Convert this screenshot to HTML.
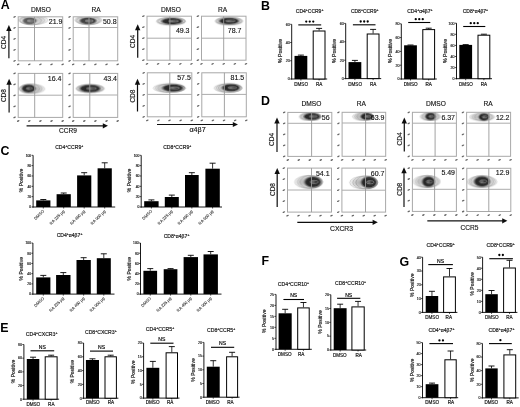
<!DOCTYPE html><html><head><meta charset="utf-8"><style>html,body{margin:0;padding:0;background:#fff;}svg{display:block;will-change:transform;}text{font-family:"Liberation Sans", sans-serif;}</style></head><body>
<svg width="520" height="407" viewBox="0 0 520 407">
<defs><filter id="soft" x="0" y="0" width="100%" height="100%"><feGaussianBlur stdDeviation="0.3"/></filter></defs>
<rect width="520" height="407" fill="#fff"/>
<g filter="url(#soft)">
<text x="0.7" y="9.4" font-size="12.4" text-anchor="start" font-weight="bold" fill="#000">A</text>
<text x="261.0" y="10.3" font-size="12.4" text-anchor="start" font-weight="bold" fill="#000">B</text>
<text x="0.6" y="154.7" font-size="12.4" text-anchor="start" font-weight="bold" fill="#000">C</text>
<text x="261.0" y="104.7" font-size="12.4" text-anchor="start" font-weight="bold" fill="#000">D</text>
<text x="0.3" y="331.8" font-size="12.4" text-anchor="start" font-weight="bold" fill="#000">E</text>
<text x="261.6" y="265.0" font-size="12.4" text-anchor="start" font-weight="bold" fill="#000">F</text>
<text x="399.4" y="265.7" font-size="12.4" text-anchor="start" font-weight="bold" fill="#000">G</text>
<text x="41" y="11.7" font-size="6.6" text-anchor="middle" font-weight="normal" fill="#111" stroke="#111" stroke-width="0.14">DMSO</text>
<text x="96" y="11.7" font-size="6.6" text-anchor="middle" font-weight="normal" fill="#111" stroke="#111" stroke-width="0.14">RA</text>
<text x="171" y="11.7" font-size="6.6" text-anchor="middle" font-weight="normal" fill="#111" stroke="#111" stroke-width="0.14">DMSO</text>
<text x="222.7" y="11.7" font-size="6.6" text-anchor="middle" font-weight="normal" fill="#111" stroke="#111" stroke-width="0.14">RA</text>
<svg x="18.2" y="16.8" width="44.5" height="44" overflow="hidden">
<g transform="translate(-18.2,-16.8)">
<radialGradient id="g1" cx="50%" cy="50%" r="50%"><stop offset="0" stop-color="#777" stop-opacity="0.54"/><stop offset="0.6" stop-color="#999" stop-opacity="0.396"/><stop offset="1" stop-color="#bbb" stop-opacity="0.15"/></radialGradient>
<ellipse cx="33.25" cy="20.0" rx="14.75" ry="4.5" fill="url(#g1)" stroke="#888" stroke-width="0.5" stroke-opacity="0.6"/>
<radialGradient id="g2" cx="50%" cy="50%" r="50%"><stop offset="0" stop-color="#666" stop-opacity="0.612"/><stop offset="0.3" stop-color="#222" stop-opacity="0.6839999999999999"/><stop offset="0.68" stop-color="#1a1a1a" stop-opacity="0.648"/><stop offset="0.86" stop-color="#555" stop-opacity="0.36"/><stop offset="1" stop-color="#888" stop-opacity="0"/></radialGradient>
<ellipse cx="29.5" cy="20.8" rx="8.125" ry="4.125" fill="url(#g2)"/>
<ellipse cx="32.12" cy="20.24" rx="12.66" ry="4.34" fill="none" stroke="#666" stroke-width="0.45" stroke-opacity="0.65"/>
<ellipse cx="31.00" cy="20.48" rx="10.58" ry="4.18" fill="none" stroke="#666" stroke-width="0.45" stroke-opacity="0.65"/>
<ellipse cx="30.475" cy="20.8" rx="3.25" ry="0.9899999999999999" fill="none" stroke="#eee" stroke-width="0.6" stroke-opacity="0.6"/>
</g></svg>
<rect x="18.2" y="16.8" width="44.5" height="44" fill="none" stroke="#a8a8a8" stroke-width="1.0"/>
<line x1="18.2" y1="27.5" x2="62.7" y2="27.5" stroke="#acacac" stroke-width="1.0"/>
<line x1="34.5" y1="16.8" x2="34.5" y2="60.8" stroke="#999" stroke-width="0.9"/>
<text x="62.4" y="24.2" font-size="7" text-anchor="end" font-weight="normal" fill="#111" stroke="#111" stroke-width="0.14">21.9</text>
<ellipse cx="14.6" cy="60.8" rx="1.4" ry="0.7" fill="#666" transform="rotate(-25 14.6 60.8)"/>
<ellipse cx="18.2" cy="64.39999999999999" rx="1.4" ry="0.7" fill="#666" transform="rotate(-25 18.2 64.39999999999999)"/>
<ellipse cx="14.6" cy="49.8" rx="1.4" ry="0.7" fill="#666" transform="rotate(-25 14.6 49.8)"/>
<ellipse cx="29.325" cy="64.39999999999999" rx="1.4" ry="0.7" fill="#666" transform="rotate(-25 29.325 64.39999999999999)"/>
<ellipse cx="14.6" cy="38.8" rx="1.4" ry="0.7" fill="#666" transform="rotate(-25 14.6 38.8)"/>
<ellipse cx="40.45" cy="64.39999999999999" rx="1.4" ry="0.7" fill="#666" transform="rotate(-25 40.45 64.39999999999999)"/>
<ellipse cx="14.6" cy="27.799999999999997" rx="1.4" ry="0.7" fill="#666" transform="rotate(-25 14.6 27.799999999999997)"/>
<ellipse cx="51.575" cy="64.39999999999999" rx="1.4" ry="0.7" fill="#666" transform="rotate(-25 51.575 64.39999999999999)"/>
<ellipse cx="14.6" cy="16.799999999999997" rx="1.4" ry="0.7" fill="#666" transform="rotate(-25 14.6 16.799999999999997)"/>
<ellipse cx="62.7" cy="64.39999999999999" rx="1.4" ry="0.7" fill="#666" transform="rotate(-25 62.7 64.39999999999999)"/>
<svg x="73.2" y="16.8" width="44.5" height="44" overflow="hidden">
<g transform="translate(-73.2,-16.8)">
<radialGradient id="g3" cx="50%" cy="50%" r="50%"><stop offset="0" stop-color="#777" stop-opacity="0.6375"/><stop offset="0.6" stop-color="#999" stop-opacity="0.4675"/><stop offset="1" stop-color="#bbb" stop-opacity="0.15"/></radialGradient>
<ellipse cx="88.4" cy="20.0" rx="13.600000000000001" ry="4.5" fill="url(#g3)" stroke="#888" stroke-width="0.5" stroke-opacity="0.6"/>
<radialGradient id="g4" cx="50%" cy="50%" r="50%"><stop offset="0" stop-color="#666" stop-opacity="0.7224999999999999"/><stop offset="0.3" stop-color="#222" stop-opacity="0.8075"/><stop offset="0.68" stop-color="#1a1a1a" stop-opacity="0.765"/><stop offset="0.86" stop-color="#555" stop-opacity="0.425"/><stop offset="1" stop-color="#888" stop-opacity="0"/></radialGradient>
<ellipse cx="88" cy="20.8" rx="10.0" ry="4.0" fill="url(#g4)"/>
<ellipse cx="88.28" cy="20.24" rx="12.40" ry="4.30" fill="none" stroke="#666" stroke-width="0.45" stroke-opacity="0.65"/>
<ellipse cx="88.16" cy="20.48" rx="11.20" ry="4.10" fill="none" stroke="#666" stroke-width="0.45" stroke-opacity="0.65"/>
<ellipse cx="89.2" cy="20.8" rx="4.0" ry="0.96" fill="none" stroke="#eee" stroke-width="0.6" stroke-opacity="0.6"/>
</g></svg>
<rect x="73.2" y="16.8" width="44.5" height="44" fill="none" stroke="#a8a8a8" stroke-width="1.0"/>
<line x1="73.2" y1="27.5" x2="117.7" y2="27.5" stroke="#acacac" stroke-width="1.0"/>
<line x1="89.0" y1="16.8" x2="89.0" y2="60.8" stroke="#999" stroke-width="0.9"/>
<text x="116.6" y="24.2" font-size="7" text-anchor="end" font-weight="normal" fill="#111" stroke="#111" stroke-width="0.14">50.8</text>
<ellipse cx="69.60000000000001" cy="60.8" rx="1.4" ry="0.7" fill="#666" transform="rotate(-25 69.60000000000001 60.8)"/>
<ellipse cx="73.2" cy="64.39999999999999" rx="1.4" ry="0.7" fill="#666" transform="rotate(-25 73.2 64.39999999999999)"/>
<ellipse cx="69.60000000000001" cy="49.8" rx="1.4" ry="0.7" fill="#666" transform="rotate(-25 69.60000000000001 49.8)"/>
<ellipse cx="84.325" cy="64.39999999999999" rx="1.4" ry="0.7" fill="#666" transform="rotate(-25 84.325 64.39999999999999)"/>
<ellipse cx="69.60000000000001" cy="38.8" rx="1.4" ry="0.7" fill="#666" transform="rotate(-25 69.60000000000001 38.8)"/>
<ellipse cx="95.45" cy="64.39999999999999" rx="1.4" ry="0.7" fill="#666" transform="rotate(-25 95.45 64.39999999999999)"/>
<ellipse cx="69.60000000000001" cy="27.799999999999997" rx="1.4" ry="0.7" fill="#666" transform="rotate(-25 69.60000000000001 27.799999999999997)"/>
<ellipse cx="106.575" cy="64.39999999999999" rx="1.4" ry="0.7" fill="#666" transform="rotate(-25 106.575 64.39999999999999)"/>
<ellipse cx="69.60000000000001" cy="16.799999999999997" rx="1.4" ry="0.7" fill="#666" transform="rotate(-25 69.60000000000001 16.799999999999997)"/>
<ellipse cx="117.7" cy="64.39999999999999" rx="1.4" ry="0.7" fill="#666" transform="rotate(-25 117.7 64.39999999999999)"/>
<svg x="18.2" y="73.4" width="44.5" height="44" overflow="hidden">
<g transform="translate(-18.2,-73.4)">
<radialGradient id="g5" cx="50%" cy="50%" r="50%"><stop offset="0" stop-color="#777" stop-opacity="0.75"/><stop offset="0.6" stop-color="#999" stop-opacity="0.55"/><stop offset="1" stop-color="#bbb" stop-opacity="0.15"/></radialGradient>
<ellipse cx="31.799999999999997" cy="88.85" rx="12.999999999999998" ry="4.550000000000004" fill="url(#g5)" stroke="#888" stroke-width="0.5" stroke-opacity="0.6"/>
<radialGradient id="g6" cx="50%" cy="50%" r="50%"><stop offset="0" stop-color="#666" stop-opacity="0.85"/><stop offset="0.3" stop-color="#222" stop-opacity="0.95"/><stop offset="0.68" stop-color="#1a1a1a" stop-opacity="0.9"/><stop offset="0.86" stop-color="#555" stop-opacity="0.5"/><stop offset="1" stop-color="#888" stop-opacity="0"/></radialGradient>
<ellipse cx="28.5" cy="88.5" rx="8.125" ry="4.75" fill="url(#g6)"/>
<ellipse cx="30.81" cy="88.74" rx="11.44" ry="4.55" fill="none" stroke="#666" stroke-width="0.45" stroke-opacity="0.65"/>
<ellipse cx="29.82" cy="88.64" rx="9.88" ry="4.56" fill="none" stroke="#666" stroke-width="0.45" stroke-opacity="0.65"/>
<ellipse cx="29.475" cy="88.5" rx="3.25" ry="1.14" fill="none" stroke="#eee" stroke-width="0.6" stroke-opacity="0.6"/>
</g></svg>
<rect x="18.2" y="73.4" width="44.5" height="44" fill="none" stroke="#a8a8a8" stroke-width="1.0"/>
<line x1="18.2" y1="95.2" x2="62.7" y2="95.2" stroke="#acacac" stroke-width="1.0"/>
<line x1="34.7" y1="73.4" x2="34.7" y2="117.4" stroke="#999" stroke-width="0.9"/>
<text x="61.4" y="80.7" font-size="7" text-anchor="end" font-weight="normal" fill="#111" stroke="#111" stroke-width="0.14">16.4</text>
<ellipse cx="14.6" cy="117.4" rx="1.4" ry="0.7" fill="#666" transform="rotate(-25 14.6 117.4)"/>
<ellipse cx="18.2" cy="121.0" rx="1.4" ry="0.7" fill="#666" transform="rotate(-25 18.2 121.0)"/>
<ellipse cx="14.6" cy="106.4" rx="1.4" ry="0.7" fill="#666" transform="rotate(-25 14.6 106.4)"/>
<ellipse cx="29.325" cy="121.0" rx="1.4" ry="0.7" fill="#666" transform="rotate(-25 29.325 121.0)"/>
<ellipse cx="14.6" cy="95.4" rx="1.4" ry="0.7" fill="#666" transform="rotate(-25 14.6 95.4)"/>
<ellipse cx="40.45" cy="121.0" rx="1.4" ry="0.7" fill="#666" transform="rotate(-25 40.45 121.0)"/>
<ellipse cx="14.6" cy="84.4" rx="1.4" ry="0.7" fill="#666" transform="rotate(-25 14.6 84.4)"/>
<ellipse cx="51.575" cy="121.0" rx="1.4" ry="0.7" fill="#666" transform="rotate(-25 51.575 121.0)"/>
<ellipse cx="14.6" cy="73.4" rx="1.4" ry="0.7" fill="#666" transform="rotate(-25 14.6 73.4)"/>
<ellipse cx="62.7" cy="121.0" rx="1.4" ry="0.7" fill="#666" transform="rotate(-25 62.7 121.0)"/>
<svg x="73.2" y="73.4" width="44.5" height="44" overflow="hidden">
<g transform="translate(-73.2,-73.4)">
<radialGradient id="g7" cx="50%" cy="50%" r="50%"><stop offset="0" stop-color="#777" stop-opacity="0.75"/><stop offset="0.6" stop-color="#999" stop-opacity="0.55"/><stop offset="1" stop-color="#bbb" stop-opacity="0.15"/></radialGradient>
<ellipse cx="90.19999999999999" cy="88.55000000000001" rx="14.399999999999999" ry="3.8500000000000014" fill="url(#g7)" stroke="#888" stroke-width="0.5" stroke-opacity="0.6"/>
<radialGradient id="g8" cx="50%" cy="50%" r="50%"><stop offset="0" stop-color="#666" stop-opacity="0.85"/><stop offset="0.3" stop-color="#222" stop-opacity="0.95"/><stop offset="0.68" stop-color="#1a1a1a" stop-opacity="0.9"/><stop offset="0.86" stop-color="#555" stop-opacity="0.5"/><stop offset="1" stop-color="#888" stop-opacity="0"/></radialGradient>
<ellipse cx="90" cy="88.5" rx="12.5" ry="4.5" fill="url(#g8)"/>
<ellipse cx="90.14" cy="88.54" rx="13.68" ry="3.99" fill="none" stroke="#666" stroke-width="0.45" stroke-opacity="0.65"/>
<ellipse cx="90.08" cy="88.52" rx="12.96" ry="4.13" fill="none" stroke="#666" stroke-width="0.45" stroke-opacity="0.65"/>
<ellipse cx="91.5" cy="88.5" rx="5.0" ry="1.08" fill="none" stroke="#eee" stroke-width="0.6" stroke-opacity="0.6"/>
</g></svg>
<rect x="73.2" y="73.4" width="44.5" height="44" fill="none" stroke="#a8a8a8" stroke-width="1.0"/>
<line x1="73.2" y1="95.0" x2="117.7" y2="95.0" stroke="#acacac" stroke-width="1.0"/>
<line x1="89.8" y1="73.4" x2="89.8" y2="117.4" stroke="#999" stroke-width="0.9"/>
<text x="117.0" y="81.0" font-size="7" text-anchor="end" font-weight="normal" fill="#111" stroke="#111" stroke-width="0.14">43.4</text>
<ellipse cx="69.60000000000001" cy="117.4" rx="1.4" ry="0.7" fill="#666" transform="rotate(-25 69.60000000000001 117.4)"/>
<ellipse cx="73.2" cy="121.0" rx="1.4" ry="0.7" fill="#666" transform="rotate(-25 73.2 121.0)"/>
<ellipse cx="69.60000000000001" cy="106.4" rx="1.4" ry="0.7" fill="#666" transform="rotate(-25 69.60000000000001 106.4)"/>
<ellipse cx="84.325" cy="121.0" rx="1.4" ry="0.7" fill="#666" transform="rotate(-25 84.325 121.0)"/>
<ellipse cx="69.60000000000001" cy="95.4" rx="1.4" ry="0.7" fill="#666" transform="rotate(-25 69.60000000000001 95.4)"/>
<ellipse cx="95.45" cy="121.0" rx="1.4" ry="0.7" fill="#666" transform="rotate(-25 95.45 121.0)"/>
<ellipse cx="69.60000000000001" cy="84.4" rx="1.4" ry="0.7" fill="#666" transform="rotate(-25 69.60000000000001 84.4)"/>
<ellipse cx="106.575" cy="121.0" rx="1.4" ry="0.7" fill="#666" transform="rotate(-25 106.575 121.0)"/>
<ellipse cx="69.60000000000001" cy="73.4" rx="1.4" ry="0.7" fill="#666" transform="rotate(-25 69.60000000000001 73.4)"/>
<ellipse cx="117.7" cy="121.0" rx="1.4" ry="0.7" fill="#666" transform="rotate(-25 117.7 121.0)"/>
<svg x="147.0" y="16.2" width="44.5" height="44" overflow="hidden">
<g transform="translate(-147.0,-16.2)">
<radialGradient id="g9" cx="50%" cy="50%" r="50%"><stop offset="0" stop-color="#777" stop-opacity="0.75"/><stop offset="0.6" stop-color="#999" stop-opacity="0.55"/><stop offset="1" stop-color="#bbb" stop-opacity="0.15"/></radialGradient>
<ellipse cx="171.0" cy="21.25" rx="15.0" ry="3.75" fill="url(#g9)" stroke="#888" stroke-width="0.5" stroke-opacity="0.6"/>
<radialGradient id="g10" cx="50%" cy="50%" r="50%"><stop offset="0" stop-color="#666" stop-opacity="0.85"/><stop offset="0.3" stop-color="#222" stop-opacity="0.95"/><stop offset="0.68" stop-color="#1a1a1a" stop-opacity="0.9"/><stop offset="0.86" stop-color="#555" stop-opacity="0.5"/><stop offset="1" stop-color="#888" stop-opacity="0"/></radialGradient>
<ellipse cx="172" cy="21.2" rx="12.5" ry="3.75" fill="url(#g10)"/>
<ellipse cx="171.30" cy="21.23" rx="14.10" ry="3.71" fill="none" stroke="#666" stroke-width="0.45" stroke-opacity="0.65"/>
<ellipse cx="171.60" cy="21.22" rx="13.20" ry="3.66" fill="none" stroke="#666" stroke-width="0.45" stroke-opacity="0.65"/>
<ellipse cx="173.5" cy="21.2" rx="5.0" ry="0.8999999999999999" fill="none" stroke="#eee" stroke-width="0.6" stroke-opacity="0.6"/>
</g></svg>
<rect x="147.0" y="16.2" width="44.5" height="44" fill="none" stroke="#a8a8a8" stroke-width="1.0"/>
<line x1="147.0" y1="38.2" x2="191.5" y2="38.2" stroke="#acacac" stroke-width="1.0"/>
<line x1="169.9" y1="16.2" x2="169.9" y2="60.2" stroke="#999" stroke-width="0.9"/>
<text x="189.5" y="33.0" font-size="7" text-anchor="end" font-weight="normal" fill="#111" stroke="#111" stroke-width="0.14">49.3</text>
<ellipse cx="143.4" cy="60.2" rx="1.4" ry="0.7" fill="#666" transform="rotate(-25 143.4 60.2)"/>
<ellipse cx="147.0" cy="63.800000000000004" rx="1.4" ry="0.7" fill="#666" transform="rotate(-25 147.0 63.800000000000004)"/>
<ellipse cx="143.4" cy="49.2" rx="1.4" ry="0.7" fill="#666" transform="rotate(-25 143.4 49.2)"/>
<ellipse cx="158.125" cy="63.800000000000004" rx="1.4" ry="0.7" fill="#666" transform="rotate(-25 158.125 63.800000000000004)"/>
<ellipse cx="143.4" cy="38.2" rx="1.4" ry="0.7" fill="#666" transform="rotate(-25 143.4 38.2)"/>
<ellipse cx="169.25" cy="63.800000000000004" rx="1.4" ry="0.7" fill="#666" transform="rotate(-25 169.25 63.800000000000004)"/>
<ellipse cx="143.4" cy="27.200000000000003" rx="1.4" ry="0.7" fill="#666" transform="rotate(-25 143.4 27.200000000000003)"/>
<ellipse cx="180.375" cy="63.800000000000004" rx="1.4" ry="0.7" fill="#666" transform="rotate(-25 180.375 63.800000000000004)"/>
<ellipse cx="143.4" cy="16.200000000000003" rx="1.4" ry="0.7" fill="#666" transform="rotate(-25 143.4 16.200000000000003)"/>
<ellipse cx="191.5" cy="63.800000000000004" rx="1.4" ry="0.7" fill="#666" transform="rotate(-25 191.5 63.800000000000004)"/>
<svg x="201.5" y="16.2" width="44.5" height="44" overflow="hidden">
<g transform="translate(-201.5,-16.2)">
<radialGradient id="g11" cx="50%" cy="50%" r="50%"><stop offset="0" stop-color="#777" stop-opacity="0.75"/><stop offset="0.6" stop-color="#999" stop-opacity="0.55"/><stop offset="1" stop-color="#bbb" stop-opacity="0.15"/></radialGradient>
<ellipse cx="229.0" cy="21.15" rx="14.0" ry="3.8499999999999996" fill="url(#g11)" stroke="#888" stroke-width="0.5" stroke-opacity="0.6"/>
<radialGradient id="g12" cx="50%" cy="50%" r="50%"><stop offset="0" stop-color="#666" stop-opacity="0.85"/><stop offset="0.3" stop-color="#222" stop-opacity="0.95"/><stop offset="0.68" stop-color="#1a1a1a" stop-opacity="0.9"/><stop offset="0.86" stop-color="#555" stop-opacity="0.5"/><stop offset="1" stop-color="#888" stop-opacity="0"/></radialGradient>
<ellipse cx="229" cy="21" rx="11.875" ry="3.75" fill="url(#g12)"/>
<ellipse cx="229.00" cy="21.11" rx="13.22" ry="3.77" fill="none" stroke="#666" stroke-width="0.45" stroke-opacity="0.65"/>
<ellipse cx="229.00" cy="21.06" rx="12.44" ry="3.70" fill="none" stroke="#666" stroke-width="0.45" stroke-opacity="0.65"/>
<ellipse cx="230.425" cy="21" rx="4.75" ry="0.8999999999999999" fill="none" stroke="#eee" stroke-width="0.6" stroke-opacity="0.6"/>
</g></svg>
<rect x="201.5" y="16.2" width="44.5" height="44" fill="none" stroke="#a8a8a8" stroke-width="1.0"/>
<line x1="201.5" y1="38.2" x2="246.0" y2="38.2" stroke="#acacac" stroke-width="1.0"/>
<line x1="223.7" y1="16.2" x2="223.7" y2="60.2" stroke="#999" stroke-width="0.9"/>
<text x="241.4" y="32.8" font-size="7" text-anchor="end" font-weight="normal" fill="#111" stroke="#111" stroke-width="0.14">78.7</text>
<ellipse cx="197.9" cy="60.2" rx="1.4" ry="0.7" fill="#666" transform="rotate(-25 197.9 60.2)"/>
<ellipse cx="201.5" cy="63.800000000000004" rx="1.4" ry="0.7" fill="#666" transform="rotate(-25 201.5 63.800000000000004)"/>
<ellipse cx="197.9" cy="49.2" rx="1.4" ry="0.7" fill="#666" transform="rotate(-25 197.9 49.2)"/>
<ellipse cx="212.625" cy="63.800000000000004" rx="1.4" ry="0.7" fill="#666" transform="rotate(-25 212.625 63.800000000000004)"/>
<ellipse cx="197.9" cy="38.2" rx="1.4" ry="0.7" fill="#666" transform="rotate(-25 197.9 38.2)"/>
<ellipse cx="223.75" cy="63.800000000000004" rx="1.4" ry="0.7" fill="#666" transform="rotate(-25 223.75 63.800000000000004)"/>
<ellipse cx="197.9" cy="27.200000000000003" rx="1.4" ry="0.7" fill="#666" transform="rotate(-25 197.9 27.200000000000003)"/>
<ellipse cx="234.875" cy="63.800000000000004" rx="1.4" ry="0.7" fill="#666" transform="rotate(-25 234.875 63.800000000000004)"/>
<ellipse cx="197.9" cy="16.200000000000003" rx="1.4" ry="0.7" fill="#666" transform="rotate(-25 197.9 16.200000000000003)"/>
<ellipse cx="246.0" cy="63.800000000000004" rx="1.4" ry="0.7" fill="#666" transform="rotate(-25 246.0 63.800000000000004)"/>
<svg x="147.3" y="72.8" width="44.5" height="44" overflow="hidden">
<g transform="translate(-147.3,-72.8)">
<radialGradient id="g13" cx="50%" cy="50%" r="50%"><stop offset="0" stop-color="#777" stop-opacity="0.75"/><stop offset="0.6" stop-color="#999" stop-opacity="0.55"/><stop offset="1" stop-color="#bbb" stop-opacity="0.15"/></radialGradient>
<ellipse cx="169.3" cy="88.1" rx="16.10000000000001" ry="4.300000000000004" fill="url(#g13)" stroke="#888" stroke-width="0.5" stroke-opacity="0.6"/>
<radialGradient id="g14" cx="50%" cy="50%" r="50%"><stop offset="0" stop-color="#666" stop-opacity="0.85"/><stop offset="0.3" stop-color="#222" stop-opacity="0.95"/><stop offset="0.68" stop-color="#1a1a1a" stop-opacity="0.9"/><stop offset="0.86" stop-color="#555" stop-opacity="0.5"/><stop offset="1" stop-color="#888" stop-opacity="0"/></radialGradient>
<ellipse cx="173" cy="88" rx="12.5" ry="4.375" fill="url(#g14)"/>
<ellipse cx="170.41" cy="88.07" rx="14.87" ry="4.27" fill="none" stroke="#666" stroke-width="0.45" stroke-opacity="0.65"/>
<ellipse cx="171.52" cy="88.04" rx="13.64" ry="4.24" fill="none" stroke="#666" stroke-width="0.45" stroke-opacity="0.65"/>
<ellipse cx="174.5" cy="88" rx="5.0" ry="1.05" fill="none" stroke="#eee" stroke-width="0.6" stroke-opacity="0.6"/>
</g></svg>
<rect x="147.3" y="72.8" width="44.5" height="44" fill="none" stroke="#a8a8a8" stroke-width="1.0"/>
<line x1="147.3" y1="94.4" x2="191.8" y2="94.4" stroke="#acacac" stroke-width="1.0"/>
<line x1="169.8" y1="72.8" x2="169.8" y2="116.8" stroke="#999" stroke-width="0.9"/>
<text x="190.8" y="80.0" font-size="7" text-anchor="end" font-weight="normal" fill="#111" stroke="#111" stroke-width="0.14">57.5</text>
<ellipse cx="143.70000000000002" cy="116.8" rx="1.4" ry="0.7" fill="#666" transform="rotate(-25 143.70000000000002 116.8)"/>
<ellipse cx="147.3" cy="120.39999999999999" rx="1.4" ry="0.7" fill="#666" transform="rotate(-25 147.3 120.39999999999999)"/>
<ellipse cx="143.70000000000002" cy="105.8" rx="1.4" ry="0.7" fill="#666" transform="rotate(-25 143.70000000000002 105.8)"/>
<ellipse cx="158.425" cy="120.39999999999999" rx="1.4" ry="0.7" fill="#666" transform="rotate(-25 158.425 120.39999999999999)"/>
<ellipse cx="143.70000000000002" cy="94.8" rx="1.4" ry="0.7" fill="#666" transform="rotate(-25 143.70000000000002 94.8)"/>
<ellipse cx="169.55" cy="120.39999999999999" rx="1.4" ry="0.7" fill="#666" transform="rotate(-25 169.55 120.39999999999999)"/>
<ellipse cx="143.70000000000002" cy="83.8" rx="1.4" ry="0.7" fill="#666" transform="rotate(-25 143.70000000000002 83.8)"/>
<ellipse cx="180.675" cy="120.39999999999999" rx="1.4" ry="0.7" fill="#666" transform="rotate(-25 180.675 120.39999999999999)"/>
<ellipse cx="143.70000000000002" cy="72.8" rx="1.4" ry="0.7" fill="#666" transform="rotate(-25 143.70000000000002 72.8)"/>
<ellipse cx="191.8" cy="120.39999999999999" rx="1.4" ry="0.7" fill="#666" transform="rotate(-25 191.8 120.39999999999999)"/>
<svg x="201.8" y="72.8" width="44.5" height="44" overflow="hidden">
<g transform="translate(-201.8,-72.8)">
<radialGradient id="g15" cx="50%" cy="50%" r="50%"><stop offset="0" stop-color="#777" stop-opacity="0.75"/><stop offset="0.6" stop-color="#999" stop-opacity="0.55"/><stop offset="1" stop-color="#bbb" stop-opacity="0.15"/></radialGradient>
<ellipse cx="228.15" cy="88.1" rx="14.150000000000006" ry="4.300000000000004" fill="url(#g15)" stroke="#888" stroke-width="0.5" stroke-opacity="0.6"/>
<radialGradient id="g16" cx="50%" cy="50%" r="50%"><stop offset="0" stop-color="#666" stop-opacity="0.85"/><stop offset="0.3" stop-color="#222" stop-opacity="0.95"/><stop offset="0.68" stop-color="#1a1a1a" stop-opacity="0.9"/><stop offset="0.86" stop-color="#555" stop-opacity="0.5"/><stop offset="1" stop-color="#888" stop-opacity="0"/></radialGradient>
<ellipse cx="231" cy="87.7" rx="10.625" ry="4.375" fill="url(#g16)"/>
<ellipse cx="229.00" cy="87.98" rx="12.97" ry="4.27" fill="none" stroke="#666" stroke-width="0.45" stroke-opacity="0.65"/>
<ellipse cx="229.86" cy="87.86" rx="11.78" ry="4.24" fill="none" stroke="#666" stroke-width="0.45" stroke-opacity="0.65"/>
<ellipse cx="232.275" cy="87.7" rx="4.25" ry="1.05" fill="none" stroke="#eee" stroke-width="0.6" stroke-opacity="0.6"/>
</g></svg>
<rect x="201.8" y="72.8" width="44.5" height="44" fill="none" stroke="#a8a8a8" stroke-width="1.0"/>
<line x1="201.8" y1="94.4" x2="246.3" y2="94.4" stroke="#acacac" stroke-width="1.0"/>
<line x1="224.4" y1="72.8" x2="224.4" y2="116.8" stroke="#999" stroke-width="0.9"/>
<text x="244.2" y="79.8" font-size="7" text-anchor="end" font-weight="normal" fill="#111" stroke="#111" stroke-width="0.14">81.5</text>
<ellipse cx="198.20000000000002" cy="116.8" rx="1.4" ry="0.7" fill="#666" transform="rotate(-25 198.20000000000002 116.8)"/>
<ellipse cx="201.8" cy="120.39999999999999" rx="1.4" ry="0.7" fill="#666" transform="rotate(-25 201.8 120.39999999999999)"/>
<ellipse cx="198.20000000000002" cy="105.8" rx="1.4" ry="0.7" fill="#666" transform="rotate(-25 198.20000000000002 105.8)"/>
<ellipse cx="212.925" cy="120.39999999999999" rx="1.4" ry="0.7" fill="#666" transform="rotate(-25 212.925 120.39999999999999)"/>
<ellipse cx="198.20000000000002" cy="94.8" rx="1.4" ry="0.7" fill="#666" transform="rotate(-25 198.20000000000002 94.8)"/>
<ellipse cx="224.05" cy="120.39999999999999" rx="1.4" ry="0.7" fill="#666" transform="rotate(-25 224.05 120.39999999999999)"/>
<ellipse cx="198.20000000000002" cy="83.8" rx="1.4" ry="0.7" fill="#666" transform="rotate(-25 198.20000000000002 83.8)"/>
<ellipse cx="235.175" cy="120.39999999999999" rx="1.4" ry="0.7" fill="#666" transform="rotate(-25 235.175 120.39999999999999)"/>
<ellipse cx="198.20000000000002" cy="72.8" rx="1.4" ry="0.7" fill="#666" transform="rotate(-25 198.20000000000002 72.8)"/>
<ellipse cx="246.3" cy="120.39999999999999" rx="1.4" ry="0.7" fill="#666" transform="rotate(-25 246.3 120.39999999999999)"/>
<text x="6.1" y="42.4" font-size="6.5" text-anchor="middle" font-weight="normal" fill="#111" stroke="#111" stroke-width="0.14" transform="rotate(-90 6.1 42.4)">CD4</text>
<line x1="8.9" y1="29.9" x2="8.9" y2="58.3" stroke="#111" stroke-width="1.2"/>
<polygon points="6.2,30.9 11.600000000000001,30.9 8.9,24.9" fill="#111"/>
<text x="6.1" y="95.6" font-size="6.5" text-anchor="middle" font-weight="normal" fill="#111" stroke="#111" stroke-width="0.14" transform="rotate(-90 6.1 95.6)">CD8</text>
<line x1="9.1" y1="83.8" x2="9.1" y2="112.4" stroke="#111" stroke-width="1.2"/>
<polygon points="6.3999999999999995,84.8 11.8,84.8 9.1,78.8" fill="#111"/>
<text x="134.9" y="41.5" font-size="6.5" text-anchor="middle" font-weight="normal" fill="#111" stroke="#111" stroke-width="0.14" transform="rotate(-90 134.9 41.5)">CD4</text>
<line x1="137.7" y1="29.2" x2="137.7" y2="57.7" stroke="#111" stroke-width="1.2"/>
<polygon points="135.0,30.2 140.39999999999998,30.2 137.7,24.2" fill="#111"/>
<text x="134.9" y="96.1" font-size="6.5" text-anchor="middle" font-weight="normal" fill="#111" stroke="#111" stroke-width="0.14" transform="rotate(-90 134.9 96.1)">CD8</text>
<line x1="137.5" y1="83.7" x2="137.5" y2="111.5" stroke="#111" stroke-width="1.2"/>
<polygon points="134.8,84.7 140.2,84.7 137.5,78.7" fill="#111"/>
<line x1="26.6" y1="125.8" x2="104" y2="125.8" stroke="#111" stroke-width="1.2"/>
<polygon points="102.8,123.2 102.8,128.4 108,125.8" fill="#111"/>
<text x="68" y="133.2" font-size="6.6" text-anchor="middle" font-weight="normal" fill="#111" stroke="#111" stroke-width="0.14">CCR9</text>
<line x1="157" y1="124.5" x2="234" y2="124.5" stroke="#111" stroke-width="1.2"/>
<polygon points="232.8,121.9 232.8,127.1 238,124.5" fill="#111"/>
<text x="197.6" y="132.2" font-size="7.2" text-anchor="middle" font-weight="normal" fill="#111" stroke="#111" stroke-width="0.14">α4β7</text>
<text x="311.5" y="106.3" font-size="6.6" text-anchor="middle" font-weight="normal" fill="#111" stroke="#111" stroke-width="0.14">DMSO</text>
<text x="361.4" y="106.3" font-size="6.6" text-anchor="middle" font-weight="normal" fill="#111" stroke="#111" stroke-width="0.14">RA</text>
<text x="436.0" y="106.3" font-size="6.6" text-anchor="middle" font-weight="normal" fill="#111" stroke="#111" stroke-width="0.14">DMSO</text>
<text x="488.2" y="106.3" font-size="6.6" text-anchor="middle" font-weight="normal" fill="#111" stroke="#111" stroke-width="0.14">RA</text>
<svg x="287.8" y="112.4" width="44" height="44" overflow="hidden">
<g transform="translate(-287.8,-112.4)">
<radialGradient id="g17" cx="50%" cy="50%" r="50%"><stop offset="0" stop-color="#777" stop-opacity="0.75"/><stop offset="0.6" stop-color="#999" stop-opacity="0.55"/><stop offset="1" stop-color="#bbb" stop-opacity="0.15"/></radialGradient>
<ellipse cx="309.85" cy="116.65" rx="10.849999999999994" ry="3.8500000000000014" fill="url(#g17)" stroke="#888" stroke-width="0.5" stroke-opacity="0.6"/>
<radialGradient id="g18" cx="50%" cy="50%" r="50%"><stop offset="0" stop-color="#666" stop-opacity="0.85"/><stop offset="0.3" stop-color="#222" stop-opacity="0.95"/><stop offset="0.68" stop-color="#1a1a1a" stop-opacity="0.9"/><stop offset="0.86" stop-color="#555" stop-opacity="0.5"/><stop offset="1" stop-color="#888" stop-opacity="0"/></radialGradient>
<ellipse cx="312" cy="116.5" rx="10.0" ry="4.125" fill="url(#g18)"/>
<ellipse cx="310.50" cy="116.61" rx="10.47" ry="3.88" fill="none" stroke="#666" stroke-width="0.45" stroke-opacity="0.65"/>
<ellipse cx="311.14" cy="116.56" rx="10.10" ry="3.92" fill="none" stroke="#666" stroke-width="0.45" stroke-opacity="0.65"/>
<ellipse cx="313.2" cy="116.5" rx="4.0" ry="0.9899999999999999" fill="none" stroke="#eee" stroke-width="0.6" stroke-opacity="0.6"/>
</g></svg>
<rect x="287.8" y="112.4" width="44" height="44" fill="none" stroke="#a8a8a8" stroke-width="1.0"/>
<line x1="287.8" y1="123.3" x2="331.8" y2="123.3" stroke="#acacac" stroke-width="1.0"/>
<line x1="311.6" y1="112.4" x2="311.6" y2="156.4" stroke="#999" stroke-width="0.9"/>
<text x="329.6" y="119.6" font-size="7" text-anchor="end" font-weight="normal" fill="#111" stroke="#111" stroke-width="0.14">56</text>
<ellipse cx="284.2" cy="156.4" rx="1.4" ry="0.7" fill="#666" transform="rotate(-25 284.2 156.4)"/>
<ellipse cx="287.8" cy="160.0" rx="1.4" ry="0.7" fill="#666" transform="rotate(-25 287.8 160.0)"/>
<ellipse cx="284.2" cy="145.4" rx="1.4" ry="0.7" fill="#666" transform="rotate(-25 284.2 145.4)"/>
<ellipse cx="298.8" cy="160.0" rx="1.4" ry="0.7" fill="#666" transform="rotate(-25 298.8 160.0)"/>
<ellipse cx="284.2" cy="134.4" rx="1.4" ry="0.7" fill="#666" transform="rotate(-25 284.2 134.4)"/>
<ellipse cx="309.8" cy="160.0" rx="1.4" ry="0.7" fill="#666" transform="rotate(-25 309.8 160.0)"/>
<ellipse cx="284.2" cy="123.4" rx="1.4" ry="0.7" fill="#666" transform="rotate(-25 284.2 123.4)"/>
<ellipse cx="320.8" cy="160.0" rx="1.4" ry="0.7" fill="#666" transform="rotate(-25 320.8 160.0)"/>
<ellipse cx="284.2" cy="112.4" rx="1.4" ry="0.7" fill="#666" transform="rotate(-25 284.2 112.4)"/>
<ellipse cx="331.8" cy="160.0" rx="1.4" ry="0.7" fill="#666" transform="rotate(-25 331.8 160.0)"/>
<svg x="342.1" y="112.3" width="43.6" height="44" overflow="hidden">
<g transform="translate(-342.1,-112.3)">
<radialGradient id="g19" cx="50%" cy="50%" r="50%"><stop offset="0" stop-color="#777" stop-opacity="0.75"/><stop offset="0.6" stop-color="#999" stop-opacity="0.55"/><stop offset="1" stop-color="#bbb" stop-opacity="0.15"/></radialGradient>
<ellipse cx="362.85" cy="116.65" rx="10.349999999999994" ry="3.8500000000000014" fill="url(#g19)" stroke="#888" stroke-width="0.5" stroke-opacity="0.6"/>
<radialGradient id="g20" cx="50%" cy="50%" r="50%"><stop offset="0" stop-color="#666" stop-opacity="0.85"/><stop offset="0.3" stop-color="#222" stop-opacity="0.95"/><stop offset="0.68" stop-color="#1a1a1a" stop-opacity="0.9"/><stop offset="0.86" stop-color="#555" stop-opacity="0.5"/><stop offset="1" stop-color="#888" stop-opacity="0"/></radialGradient>
<ellipse cx="367" cy="116.5" rx="7.5" ry="4.125" fill="url(#g20)"/>
<ellipse cx="364.10" cy="116.61" rx="9.40" ry="3.88" fill="none" stroke="#666" stroke-width="0.45" stroke-opacity="0.65"/>
<ellipse cx="365.34" cy="116.56" rx="8.46" ry="3.92" fill="none" stroke="#666" stroke-width="0.45" stroke-opacity="0.65"/>
<ellipse cx="367.9" cy="116.5" rx="3.0" ry="0.9899999999999999" fill="none" stroke="#eee" stroke-width="0.6" stroke-opacity="0.6"/>
</g></svg>
<rect x="342.1" y="112.3" width="43.6" height="44" fill="none" stroke="#a8a8a8" stroke-width="1.0"/>
<line x1="342.1" y1="123.0" x2="385.70000000000005" y2="123.0" stroke="#acacac" stroke-width="1.0"/>
<line x1="365.6" y1="112.3" x2="365.6" y2="156.3" stroke="#999" stroke-width="0.9"/>
<text x="384.4" y="119.6" font-size="7" text-anchor="end" font-weight="normal" fill="#111" stroke="#111" stroke-width="0.14">63.9</text>
<ellipse cx="338.5" cy="156.3" rx="1.4" ry="0.7" fill="#666" transform="rotate(-25 338.5 156.3)"/>
<ellipse cx="342.1" cy="159.9" rx="1.4" ry="0.7" fill="#666" transform="rotate(-25 342.1 159.9)"/>
<ellipse cx="338.5" cy="145.3" rx="1.4" ry="0.7" fill="#666" transform="rotate(-25 338.5 145.3)"/>
<ellipse cx="353.0" cy="159.9" rx="1.4" ry="0.7" fill="#666" transform="rotate(-25 353.0 159.9)"/>
<ellipse cx="338.5" cy="134.3" rx="1.4" ry="0.7" fill="#666" transform="rotate(-25 338.5 134.3)"/>
<ellipse cx="363.90000000000003" cy="159.9" rx="1.4" ry="0.7" fill="#666" transform="rotate(-25 363.90000000000003 159.9)"/>
<ellipse cx="338.5" cy="123.30000000000001" rx="1.4" ry="0.7" fill="#666" transform="rotate(-25 338.5 123.30000000000001)"/>
<ellipse cx="374.8" cy="159.9" rx="1.4" ry="0.7" fill="#666" transform="rotate(-25 374.8 159.9)"/>
<ellipse cx="338.5" cy="112.30000000000001" rx="1.4" ry="0.7" fill="#666" transform="rotate(-25 338.5 112.30000000000001)"/>
<ellipse cx="385.70000000000005" cy="159.9" rx="1.4" ry="0.7" fill="#666" transform="rotate(-25 385.70000000000005 159.9)"/>
<svg x="287.5" y="168.1" width="44" height="44" overflow="hidden">
<g transform="translate(-287.5,-168.1)">
<radialGradient id="g21" cx="50%" cy="50%" r="50%"><stop offset="0" stop-color="#777" stop-opacity="0.75"/><stop offset="0.6" stop-color="#999" stop-opacity="0.55"/><stop offset="1" stop-color="#bbb" stop-opacity="0.15"/></radialGradient>
<ellipse cx="308.6" cy="182.0" rx="13.900000000000006" ry="6.5" fill="url(#g21)" stroke="#888" stroke-width="0.5" stroke-opacity="0.6"/>
<radialGradient id="g22" cx="50%" cy="50%" r="50%"><stop offset="0" stop-color="#666" stop-opacity="0.85"/><stop offset="0.3" stop-color="#222" stop-opacity="0.95"/><stop offset="0.68" stop-color="#1a1a1a" stop-opacity="0.9"/><stop offset="0.86" stop-color="#555" stop-opacity="0.5"/><stop offset="1" stop-color="#888" stop-opacity="0"/></radialGradient>
<ellipse cx="313" cy="182" rx="10.0" ry="6.5" fill="url(#g22)"/>
<ellipse cx="309.92" cy="182.00" rx="12.61" ry="6.42" fill="none" stroke="#666" stroke-width="0.45" stroke-opacity="0.65"/>
<ellipse cx="311.24" cy="182.00" rx="11.32" ry="6.34" fill="none" stroke="#666" stroke-width="0.45" stroke-opacity="0.65"/>
<ellipse cx="314.2" cy="182" rx="4.0" ry="1.56" fill="none" stroke="#eee" stroke-width="0.6" stroke-opacity="0.6"/>
</g></svg>
<rect x="287.5" y="168.1" width="44" height="44" fill="none" stroke="#a8a8a8" stroke-width="1.0"/>
<line x1="287.5" y1="190.0" x2="331.5" y2="190.0" stroke="#acacac" stroke-width="1.0"/>
<line x1="311.5" y1="168.1" x2="311.5" y2="212.1" stroke="#999" stroke-width="0.9"/>
<text x="329.6" y="175.5" font-size="7" text-anchor="end" font-weight="normal" fill="#111" stroke="#111" stroke-width="0.14">54.1</text>
<ellipse cx="283.9" cy="212.1" rx="1.4" ry="0.7" fill="#666" transform="rotate(-25 283.9 212.1)"/>
<ellipse cx="287.5" cy="215.7" rx="1.4" ry="0.7" fill="#666" transform="rotate(-25 287.5 215.7)"/>
<ellipse cx="283.9" cy="201.1" rx="1.4" ry="0.7" fill="#666" transform="rotate(-25 283.9 201.1)"/>
<ellipse cx="298.5" cy="215.7" rx="1.4" ry="0.7" fill="#666" transform="rotate(-25 298.5 215.7)"/>
<ellipse cx="283.9" cy="190.1" rx="1.4" ry="0.7" fill="#666" transform="rotate(-25 283.9 190.1)"/>
<ellipse cx="309.5" cy="215.7" rx="1.4" ry="0.7" fill="#666" transform="rotate(-25 309.5 215.7)"/>
<ellipse cx="283.9" cy="179.1" rx="1.4" ry="0.7" fill="#666" transform="rotate(-25 283.9 179.1)"/>
<ellipse cx="320.5" cy="215.7" rx="1.4" ry="0.7" fill="#666" transform="rotate(-25 320.5 215.7)"/>
<ellipse cx="283.9" cy="168.1" rx="1.4" ry="0.7" fill="#666" transform="rotate(-25 283.9 168.1)"/>
<ellipse cx="331.5" cy="215.7" rx="1.4" ry="0.7" fill="#666" transform="rotate(-25 331.5 215.7)"/>
<svg x="341.9" y="168.1" width="43.7" height="44" overflow="hidden">
<g transform="translate(-341.9,-168.1)">
<radialGradient id="g23" cx="50%" cy="50%" r="50%"><stop offset="0" stop-color="#777" stop-opacity="0.75"/><stop offset="0.6" stop-color="#999" stop-opacity="0.55"/><stop offset="1" stop-color="#bbb" stop-opacity="0.15"/></radialGradient>
<ellipse cx="363.55" cy="182.6" rx="13.949999999999989" ry="6.400000000000006" fill="url(#g23)" stroke="#888" stroke-width="0.5" stroke-opacity="0.6"/>
<radialGradient id="g24" cx="50%" cy="50%" r="50%"><stop offset="0" stop-color="#666" stop-opacity="0.85"/><stop offset="0.3" stop-color="#222" stop-opacity="0.95"/><stop offset="0.68" stop-color="#1a1a1a" stop-opacity="0.9"/><stop offset="0.86" stop-color="#555" stop-opacity="0.5"/><stop offset="1" stop-color="#888" stop-opacity="0"/></radialGradient>
<ellipse cx="369" cy="182.3" rx="9.375" ry="6.875" fill="url(#g24)"/>
<ellipse cx="365.19" cy="182.51" rx="12.46" ry="6.46" fill="none" stroke="#666" stroke-width="0.45" stroke-opacity="0.65"/>
<ellipse cx="366.82" cy="182.42" rx="10.98" ry="6.52" fill="none" stroke="#666" stroke-width="0.45" stroke-opacity="0.65"/>
<ellipse cx="370.125" cy="182.3" rx="3.75" ry="1.65" fill="none" stroke="#eee" stroke-width="0.6" stroke-opacity="0.6"/>
</g></svg>
<rect x="341.9" y="168.1" width="43.7" height="44" fill="none" stroke="#a8a8a8" stroke-width="1.0"/>
<line x1="341.9" y1="190.2" x2="385.59999999999997" y2="190.2" stroke="#acacac" stroke-width="1.0"/>
<line x1="365.5" y1="168.1" x2="365.5" y2="212.1" stroke="#999" stroke-width="0.9"/>
<text x="384.4" y="175.5" font-size="7" text-anchor="end" font-weight="normal" fill="#111" stroke="#111" stroke-width="0.14">60.7</text>
<ellipse cx="338.29999999999995" cy="212.1" rx="1.4" ry="0.7" fill="#666" transform="rotate(-25 338.29999999999995 212.1)"/>
<ellipse cx="341.9" cy="215.7" rx="1.4" ry="0.7" fill="#666" transform="rotate(-25 341.9 215.7)"/>
<ellipse cx="338.29999999999995" cy="201.1" rx="1.4" ry="0.7" fill="#666" transform="rotate(-25 338.29999999999995 201.1)"/>
<ellipse cx="352.825" cy="215.7" rx="1.4" ry="0.7" fill="#666" transform="rotate(-25 352.825 215.7)"/>
<ellipse cx="338.29999999999995" cy="190.1" rx="1.4" ry="0.7" fill="#666" transform="rotate(-25 338.29999999999995 190.1)"/>
<ellipse cx="363.75" cy="215.7" rx="1.4" ry="0.7" fill="#666" transform="rotate(-25 363.75 215.7)"/>
<ellipse cx="338.29999999999995" cy="179.1" rx="1.4" ry="0.7" fill="#666" transform="rotate(-25 338.29999999999995 179.1)"/>
<ellipse cx="374.67499999999995" cy="215.7" rx="1.4" ry="0.7" fill="#666" transform="rotate(-25 374.67499999999995 215.7)"/>
<ellipse cx="338.29999999999995" cy="168.1" rx="1.4" ry="0.7" fill="#666" transform="rotate(-25 338.29999999999995 168.1)"/>
<ellipse cx="385.59999999999997" cy="215.7" rx="1.4" ry="0.7" fill="#666" transform="rotate(-25 385.59999999999997 215.7)"/>
<svg x="412.4" y="112.3" width="44" height="44" overflow="hidden">
<g transform="translate(-412.4,-112.3)">
<radialGradient id="g25" cx="50%" cy="50%" r="50%"><stop offset="0" stop-color="#777" stop-opacity="0.75"/><stop offset="0.6" stop-color="#999" stop-opacity="0.55"/><stop offset="1" stop-color="#bbb" stop-opacity="0.15"/></radialGradient>
<ellipse cx="430.4" cy="116.65" rx="10.400000000000006" ry="3.8500000000000014" fill="url(#g25)" stroke="#888" stroke-width="0.5" stroke-opacity="0.6"/>
<radialGradient id="g26" cx="50%" cy="50%" r="50%"><stop offset="0" stop-color="#666" stop-opacity="0.85"/><stop offset="0.3" stop-color="#222" stop-opacity="0.95"/><stop offset="0.68" stop-color="#1a1a1a" stop-opacity="0.9"/><stop offset="0.86" stop-color="#555" stop-opacity="0.5"/><stop offset="1" stop-color="#888" stop-opacity="0"/></radialGradient>
<ellipse cx="430.5" cy="116.5" rx="6.25" ry="4.375" fill="url(#g26)"/>
<ellipse cx="430.43" cy="116.61" rx="9.08" ry="3.96" fill="none" stroke="#666" stroke-width="0.45" stroke-opacity="0.65"/>
<ellipse cx="430.46" cy="116.56" rx="7.76" ry="4.06" fill="none" stroke="#666" stroke-width="0.45" stroke-opacity="0.65"/>
<ellipse cx="431.25" cy="116.5" rx="2.5" ry="1.05" fill="none" stroke="#eee" stroke-width="0.6" stroke-opacity="0.6"/>
</g></svg>
<rect x="412.4" y="112.3" width="44" height="44" fill="none" stroke="#a8a8a8" stroke-width="1.0"/>
<line x1="412.4" y1="123.2" x2="456.4" y2="123.2" stroke="#acacac" stroke-width="1.0"/>
<line x1="435.1" y1="112.3" x2="435.1" y2="156.3" stroke="#999" stroke-width="0.9"/>
<text x="455.0" y="119.6" font-size="7" text-anchor="end" font-weight="normal" fill="#111" stroke="#111" stroke-width="0.14">6.37</text>
<ellipse cx="408.79999999999995" cy="156.3" rx="1.4" ry="0.7" fill="#666" transform="rotate(-25 408.79999999999995 156.3)"/>
<ellipse cx="412.4" cy="159.9" rx="1.4" ry="0.7" fill="#666" transform="rotate(-25 412.4 159.9)"/>
<ellipse cx="408.79999999999995" cy="145.3" rx="1.4" ry="0.7" fill="#666" transform="rotate(-25 408.79999999999995 145.3)"/>
<ellipse cx="423.4" cy="159.9" rx="1.4" ry="0.7" fill="#666" transform="rotate(-25 423.4 159.9)"/>
<ellipse cx="408.79999999999995" cy="134.3" rx="1.4" ry="0.7" fill="#666" transform="rotate(-25 408.79999999999995 134.3)"/>
<ellipse cx="434.4" cy="159.9" rx="1.4" ry="0.7" fill="#666" transform="rotate(-25 434.4 159.9)"/>
<ellipse cx="408.79999999999995" cy="123.30000000000001" rx="1.4" ry="0.7" fill="#666" transform="rotate(-25 408.79999999999995 123.30000000000001)"/>
<ellipse cx="445.4" cy="159.9" rx="1.4" ry="0.7" fill="#666" transform="rotate(-25 445.4 159.9)"/>
<ellipse cx="408.79999999999995" cy="112.30000000000001" rx="1.4" ry="0.7" fill="#666" transform="rotate(-25 408.79999999999995 112.30000000000001)"/>
<ellipse cx="456.4" cy="159.9" rx="1.4" ry="0.7" fill="#666" transform="rotate(-25 456.4 159.9)"/>
<svg x="466.6" y="112.3" width="44" height="44" overflow="hidden">
<g transform="translate(-466.6,-112.3)">
<radialGradient id="g27" cx="50%" cy="50%" r="50%"><stop offset="0" stop-color="#777" stop-opacity="0.75"/><stop offset="0.6" stop-color="#999" stop-opacity="0.55"/><stop offset="1" stop-color="#bbb" stop-opacity="0.15"/></radialGradient>
<ellipse cx="482.05" cy="117.0" rx="12.75" ry="3.5" fill="url(#g27)" stroke="#888" stroke-width="0.5" stroke-opacity="0.6"/>
<radialGradient id="g28" cx="50%" cy="50%" r="50%"><stop offset="0" stop-color="#666" stop-opacity="0.85"/><stop offset="0.3" stop-color="#222" stop-opacity="0.95"/><stop offset="0.68" stop-color="#1a1a1a" stop-opacity="0.9"/><stop offset="0.86" stop-color="#555" stop-opacity="0.5"/><stop offset="1" stop-color="#888" stop-opacity="0"/></radialGradient>
<ellipse cx="484" cy="117" rx="6.25" ry="4.375" fill="url(#g28)"/>
<ellipse cx="482.63" cy="117.00" rx="10.72" ry="3.71" fill="none" stroke="#666" stroke-width="0.45" stroke-opacity="0.65"/>
<ellipse cx="483.22" cy="117.00" rx="8.70" ry="3.92" fill="none" stroke="#666" stroke-width="0.45" stroke-opacity="0.65"/>
<ellipse cx="484.75" cy="117" rx="2.5" ry="1.05" fill="none" stroke="#eee" stroke-width="0.6" stroke-opacity="0.6"/>
</g></svg>
<rect x="466.6" y="112.3" width="44" height="44" fill="none" stroke="#a8a8a8" stroke-width="1.0"/>
<line x1="466.6" y1="123.2" x2="510.6" y2="123.2" stroke="#acacac" stroke-width="1.0"/>
<line x1="488.9" y1="112.3" x2="488.9" y2="156.3" stroke="#999" stroke-width="0.9"/>
<text x="509.5" y="119.7" font-size="7" text-anchor="end" font-weight="normal" fill="#111" stroke="#111" stroke-width="0.14">12.2</text>
<ellipse cx="463.0" cy="156.3" rx="1.4" ry="0.7" fill="#666" transform="rotate(-25 463.0 156.3)"/>
<ellipse cx="466.6" cy="159.9" rx="1.4" ry="0.7" fill="#666" transform="rotate(-25 466.6 159.9)"/>
<ellipse cx="463.0" cy="145.3" rx="1.4" ry="0.7" fill="#666" transform="rotate(-25 463.0 145.3)"/>
<ellipse cx="477.6" cy="159.9" rx="1.4" ry="0.7" fill="#666" transform="rotate(-25 477.6 159.9)"/>
<ellipse cx="463.0" cy="134.3" rx="1.4" ry="0.7" fill="#666" transform="rotate(-25 463.0 134.3)"/>
<ellipse cx="488.6" cy="159.9" rx="1.4" ry="0.7" fill="#666" transform="rotate(-25 488.6 159.9)"/>
<ellipse cx="463.0" cy="123.30000000000001" rx="1.4" ry="0.7" fill="#666" transform="rotate(-25 463.0 123.30000000000001)"/>
<ellipse cx="499.6" cy="159.9" rx="1.4" ry="0.7" fill="#666" transform="rotate(-25 499.6 159.9)"/>
<ellipse cx="463.0" cy="112.30000000000001" rx="1.4" ry="0.7" fill="#666" transform="rotate(-25 463.0 112.30000000000001)"/>
<ellipse cx="510.6" cy="159.9" rx="1.4" ry="0.7" fill="#666" transform="rotate(-25 510.6 159.9)"/>
<svg x="412.4" y="168.2" width="44" height="43.2" overflow="hidden">
<g transform="translate(-412.4,-168.2)">
<radialGradient id="g29" cx="50%" cy="50%" r="50%"><stop offset="0" stop-color="#777" stop-opacity="0.75"/><stop offset="0.6" stop-color="#999" stop-opacity="0.55"/><stop offset="1" stop-color="#bbb" stop-opacity="0.15"/></radialGradient>
<ellipse cx="426.75" cy="181.5" rx="13.75" ry="6.0" fill="url(#g29)" stroke="#888" stroke-width="0.5" stroke-opacity="0.6"/>
<radialGradient id="g30" cx="50%" cy="50%" r="50%"><stop offset="0" stop-color="#666" stop-opacity="0.85"/><stop offset="0.3" stop-color="#222" stop-opacity="0.95"/><stop offset="0.68" stop-color="#1a1a1a" stop-opacity="0.9"/><stop offset="0.86" stop-color="#555" stop-opacity="0.5"/><stop offset="1" stop-color="#888" stop-opacity="0"/></radialGradient>
<ellipse cx="428.5" cy="181.7" rx="7.5" ry="6.25" fill="url(#g30)"/>
<ellipse cx="427.27" cy="181.56" rx="11.79" ry="6.00" fill="none" stroke="#666" stroke-width="0.45" stroke-opacity="0.65"/>
<ellipse cx="427.80" cy="181.62" rx="9.82" ry="6.00" fill="none" stroke="#666" stroke-width="0.45" stroke-opacity="0.65"/>
<ellipse cx="429.4" cy="181.7" rx="3.0" ry="1.5" fill="none" stroke="#eee" stroke-width="0.6" stroke-opacity="0.6"/>
</g></svg>
<rect x="412.4" y="168.2" width="44" height="43.2" fill="none" stroke="#a8a8a8" stroke-width="1.0"/>
<line x1="412.4" y1="189.3" x2="456.4" y2="189.3" stroke="#acacac" stroke-width="1.0"/>
<line x1="434.6" y1="168.2" x2="434.6" y2="211.39999999999998" stroke="#999" stroke-width="0.9"/>
<text x="455.0" y="175.3" font-size="7" text-anchor="end" font-weight="normal" fill="#111" stroke="#111" stroke-width="0.14">5.49</text>
<ellipse cx="408.79999999999995" cy="211.39999999999998" rx="1.4" ry="0.7" fill="#666" transform="rotate(-25 408.79999999999995 211.39999999999998)"/>
<ellipse cx="412.4" cy="214.99999999999997" rx="1.4" ry="0.7" fill="#666" transform="rotate(-25 412.4 214.99999999999997)"/>
<ellipse cx="408.79999999999995" cy="200.59999999999997" rx="1.4" ry="0.7" fill="#666" transform="rotate(-25 408.79999999999995 200.59999999999997)"/>
<ellipse cx="423.4" cy="214.99999999999997" rx="1.4" ry="0.7" fill="#666" transform="rotate(-25 423.4 214.99999999999997)"/>
<ellipse cx="408.79999999999995" cy="189.79999999999998" rx="1.4" ry="0.7" fill="#666" transform="rotate(-25 408.79999999999995 189.79999999999998)"/>
<ellipse cx="434.4" cy="214.99999999999997" rx="1.4" ry="0.7" fill="#666" transform="rotate(-25 434.4 214.99999999999997)"/>
<ellipse cx="408.79999999999995" cy="178.99999999999997" rx="1.4" ry="0.7" fill="#666" transform="rotate(-25 408.79999999999995 178.99999999999997)"/>
<ellipse cx="445.4" cy="214.99999999999997" rx="1.4" ry="0.7" fill="#666" transform="rotate(-25 445.4 214.99999999999997)"/>
<ellipse cx="408.79999999999995" cy="168.2" rx="1.4" ry="0.7" fill="#666" transform="rotate(-25 408.79999999999995 168.2)"/>
<ellipse cx="456.4" cy="214.99999999999997" rx="1.4" ry="0.7" fill="#666" transform="rotate(-25 456.4 214.99999999999997)"/>
<svg x="466.8" y="168.3" width="44" height="43.2" overflow="hidden">
<g transform="translate(-466.8,-168.3)">
<radialGradient id="g31" cx="50%" cy="50%" r="50%"><stop offset="0" stop-color="#777" stop-opacity="0.75"/><stop offset="0.6" stop-color="#999" stop-opacity="0.55"/><stop offset="1" stop-color="#bbb" stop-opacity="0.15"/></radialGradient>
<ellipse cx="482.1" cy="181.75" rx="14.900000000000006" ry="5.75" fill="url(#g31)" stroke="#888" stroke-width="0.5" stroke-opacity="0.6"/>
<radialGradient id="g32" cx="50%" cy="50%" r="50%"><stop offset="0" stop-color="#666" stop-opacity="0.85"/><stop offset="0.3" stop-color="#222" stop-opacity="0.95"/><stop offset="0.68" stop-color="#1a1a1a" stop-opacity="0.9"/><stop offset="0.86" stop-color="#555" stop-opacity="0.5"/><stop offset="1" stop-color="#888" stop-opacity="0"/></radialGradient>
<ellipse cx="482" cy="181.5" rx="9.375" ry="6.25" fill="url(#g32)"/>
<ellipse cx="482.07" cy="181.68" rx="13.13" ry="5.83" fill="none" stroke="#666" stroke-width="0.45" stroke-opacity="0.65"/>
<ellipse cx="482.04" cy="181.60" rx="11.36" ry="5.90" fill="none" stroke="#666" stroke-width="0.45" stroke-opacity="0.65"/>
<ellipse cx="483.125" cy="181.5" rx="3.75" ry="1.5" fill="none" stroke="#eee" stroke-width="0.6" stroke-opacity="0.6"/>
</g></svg>
<rect x="466.8" y="168.3" width="44" height="43.2" fill="none" stroke="#a8a8a8" stroke-width="1.0"/>
<line x1="466.8" y1="189.3" x2="510.8" y2="189.3" stroke="#acacac" stroke-width="1.0"/>
<line x1="488.8" y1="168.3" x2="488.8" y2="211.5" stroke="#999" stroke-width="0.9"/>
<text x="509.4" y="175.4" font-size="7" text-anchor="end" font-weight="normal" fill="#111" stroke="#111" stroke-width="0.14">12.9</text>
<ellipse cx="463.2" cy="211.5" rx="1.4" ry="0.7" fill="#666" transform="rotate(-25 463.2 211.5)"/>
<ellipse cx="466.8" cy="215.1" rx="1.4" ry="0.7" fill="#666" transform="rotate(-25 466.8 215.1)"/>
<ellipse cx="463.2" cy="200.7" rx="1.4" ry="0.7" fill="#666" transform="rotate(-25 463.2 200.7)"/>
<ellipse cx="477.8" cy="215.1" rx="1.4" ry="0.7" fill="#666" transform="rotate(-25 477.8 215.1)"/>
<ellipse cx="463.2" cy="189.9" rx="1.4" ry="0.7" fill="#666" transform="rotate(-25 463.2 189.9)"/>
<ellipse cx="488.8" cy="215.1" rx="1.4" ry="0.7" fill="#666" transform="rotate(-25 488.8 215.1)"/>
<ellipse cx="463.2" cy="179.1" rx="1.4" ry="0.7" fill="#666" transform="rotate(-25 463.2 179.1)"/>
<ellipse cx="499.8" cy="215.1" rx="1.4" ry="0.7" fill="#666" transform="rotate(-25 499.8 215.1)"/>
<ellipse cx="463.2" cy="168.3" rx="1.4" ry="0.7" fill="#666" transform="rotate(-25 463.2 168.3)"/>
<ellipse cx="510.8" cy="215.1" rx="1.4" ry="0.7" fill="#666" transform="rotate(-25 510.8 215.1)"/>
<text x="274.4" y="139.5" font-size="6.5" text-anchor="middle" font-weight="normal" fill="#111" stroke="#111" stroke-width="0.14" transform="rotate(-90 274.4 139.5)">CD4</text>
<line x1="277.0" y1="122.5" x2="277.0" y2="152.0" stroke="#111" stroke-width="1.2"/>
<polygon points="274.3,123.5 279.7,123.5 277.0,117.5" fill="#111"/>
<text x="274.6" y="189.5" font-size="6.5" text-anchor="middle" font-weight="normal" fill="#111" stroke="#111" stroke-width="0.14" transform="rotate(-90 274.6 189.5)">CD8</text>
<line x1="277.2" y1="173.0" x2="277.2" y2="207.0" stroke="#111" stroke-width="1.2"/>
<polygon points="274.5,174.0 279.9,174.0 277.2,168.0" fill="#111"/>
<text x="402.2" y="139.0" font-size="6.5" text-anchor="middle" font-weight="normal" fill="#111" stroke="#111" stroke-width="0.14" transform="rotate(-90 402.2 139.0)">CD4</text>
<line x1="404.3" y1="122.5" x2="404.3" y2="151.6" stroke="#111" stroke-width="1.2"/>
<polygon points="401.6,123.5 407.0,123.5 404.3,117.5" fill="#111"/>
<text x="402.2" y="189.3" font-size="6.5" text-anchor="middle" font-weight="normal" fill="#111" stroke="#111" stroke-width="0.14" transform="rotate(-90 402.2 189.3)">CD8</text>
<line x1="404.0" y1="172.3" x2="404.0" y2="207.0" stroke="#111" stroke-width="1.2"/>
<polygon points="401.3,173.3 406.7,173.3 404.0,167.3" fill="#111"/>
<line x1="297.3" y1="222.3" x2="373.8" y2="222.3" stroke="#111" stroke-width="1.2"/>
<polygon points="372.6,219.70000000000002 372.6,224.9 377.8,222.3" fill="#111"/>
<text x="341.5" y="231.0" font-size="6.8" text-anchor="middle" font-weight="normal" fill="#111" stroke="#111" stroke-width="0.14">CXCR3</text>
<line x1="427.3" y1="220.8" x2="503.4" y2="220.8" stroke="#111" stroke-width="1.2"/>
<polygon points="502.2,218.20000000000002 502.2,223.4 507.4,220.8" fill="#111"/>
<text x="469.4" y="230.0" font-size="6.6" text-anchor="middle" font-weight="normal" fill="#111" stroke="#111" stroke-width="0.14">CCR5</text>
<line x1="291.7" y1="24.3" x2="291.7" y2="79.5" stroke="#000" stroke-width="0.9"/>
<line x1="291.25" y1="79.0" x2="327.2" y2="79.0" stroke="#000" stroke-width="0.9"/>
<line x1="290.09999999999997" y1="24.3" x2="291.7" y2="24.3" stroke="#000" stroke-width="0.7"/>
<text x="289.8" y="25.6" font-size="3.6" text-anchor="end" font-weight="normal" fill="#222" stroke="#222" stroke-width="0.16">60</text>
<line x1="290.09999999999997" y1="42.53333333333333" x2="291.7" y2="42.53333333333333" stroke="#000" stroke-width="0.7"/>
<text x="289.8" y="43.83333333333333" font-size="3.6" text-anchor="end" font-weight="normal" fill="#222" stroke="#222" stroke-width="0.16">40</text>
<line x1="290.09999999999997" y1="60.766666666666666" x2="291.7" y2="60.766666666666666" stroke="#000" stroke-width="0.7"/>
<text x="289.8" y="62.06666666666666" font-size="3.6" text-anchor="end" font-weight="normal" fill="#222" stroke="#222" stroke-width="0.16">20</text>
<line x1="290.09999999999997" y1="79.00000000000001" x2="291.7" y2="79.00000000000001" stroke="#000" stroke-width="0.7"/>
<text x="289.8" y="80.30000000000001" font-size="3.6" text-anchor="end" font-weight="normal" fill="#222" stroke="#222" stroke-width="0.16">0</text>
<line x1="300.9" y1="55.1" x2="300.9" y2="55.9" stroke="#000" stroke-width="0.8"/>
<line x1="297.9" y1="55.1" x2="303.9" y2="55.1" stroke="#000" stroke-width="0.9"/>
<rect x="294.5" y="55.9" width="12.800000000000011" height="23.1" fill="#000" stroke="none" stroke-width="1"/>
<line x1="300.9" y1="79.0" x2="300.9" y2="80.5" stroke="#000" stroke-width="0.7"/>
<line x1="319.1" y1="28.4" x2="319.1" y2="30.5" stroke="#000" stroke-width="0.8"/>
<line x1="316.1" y1="28.4" x2="322.1" y2="28.4" stroke="#000" stroke-width="0.9"/>
<rect x="313.2" y="31.0" width="11.800000000000011" height="48.0" fill="#fff" stroke="#000" stroke-width="1"/>
<line x1="319.1" y1="79.0" x2="319.1" y2="80.5" stroke="#000" stroke-width="0.7"/>
<text x="282.3" y="51" font-size="5.2" text-anchor="middle" font-weight="normal" fill="#111" stroke="#111" stroke-width="0.16" transform="rotate(-90 282.3 51)">% Positive</text>
<text x="301.09999999999997" y="85.6" font-size="4.6" text-anchor="middle" font-weight="normal" fill="#111" stroke="#111" stroke-width="0.16">DMSO</text>
<text x="319.09999999999997" y="85.6" font-size="4.6" text-anchor="middle" font-weight="normal" fill="#111" stroke="#111" stroke-width="0.16">RA</text>
<line x1="298.3" y1="24.9" x2="321.2" y2="24.9" stroke="#000" stroke-width="1.1"/>
<circle cx="306.25" cy="21.599999999999998" r="1.15" fill="#000"/>
<circle cx="309.75" cy="21.599999999999998" r="1.15" fill="#000"/>
<circle cx="313.25" cy="21.599999999999998" r="1.15" fill="#000"/>
<text x="309.6" y="12.6" font-size="5.0" text-anchor="middle" font-weight="normal" fill="#111" stroke="#111" stroke-width="0.16">CD4<tspan dy="-1.9" font-size="3.4">+</tspan><tspan dy="1.9">CCR9</tspan><tspan dy="-1.9" font-size="3.4">+</tspan></text>
<line x1="345.7" y1="23.4" x2="345.7" y2="79.1" stroke="#000" stroke-width="0.9"/>
<line x1="345.25" y1="78.6" x2="381.2" y2="78.6" stroke="#000" stroke-width="0.9"/>
<line x1="344.09999999999997" y1="23.4" x2="345.7" y2="23.4" stroke="#000" stroke-width="0.7"/>
<text x="343.8" y="24.7" font-size="3.6" text-anchor="end" font-weight="normal" fill="#222" stroke="#222" stroke-width="0.16">60</text>
<line x1="344.09999999999997" y1="41.8" x2="345.7" y2="41.8" stroke="#000" stroke-width="0.7"/>
<text x="343.8" y="43.099999999999994" font-size="3.6" text-anchor="end" font-weight="normal" fill="#222" stroke="#222" stroke-width="0.16">40</text>
<line x1="344.09999999999997" y1="60.199999999999996" x2="345.7" y2="60.199999999999996" stroke="#000" stroke-width="0.7"/>
<text x="343.8" y="61.49999999999999" font-size="3.6" text-anchor="end" font-weight="normal" fill="#222" stroke="#222" stroke-width="0.16">20</text>
<line x1="344.09999999999997" y1="78.6" x2="345.7" y2="78.6" stroke="#000" stroke-width="0.7"/>
<text x="343.8" y="79.89999999999999" font-size="3.6" text-anchor="end" font-weight="normal" fill="#222" stroke="#222" stroke-width="0.16">0</text>
<line x1="354.9" y1="60.4" x2="354.9" y2="62.1" stroke="#000" stroke-width="0.8"/>
<line x1="351.9" y1="60.4" x2="357.9" y2="60.4" stroke="#000" stroke-width="0.9"/>
<rect x="348.5" y="62.1" width="12.800000000000011" height="16.499999999999993" fill="#000" stroke="none" stroke-width="1"/>
<line x1="354.9" y1="78.6" x2="354.9" y2="80.1" stroke="#000" stroke-width="0.7"/>
<line x1="373.1" y1="29.4" x2="373.1" y2="33.5" stroke="#000" stroke-width="0.8"/>
<line x1="370.1" y1="29.4" x2="376.1" y2="29.4" stroke="#000" stroke-width="0.9"/>
<rect x="367.2" y="34.0" width="11.800000000000011" height="44.599999999999994" fill="#fff" stroke="#000" stroke-width="1"/>
<line x1="373.1" y1="78.6" x2="373.1" y2="80.1" stroke="#000" stroke-width="0.7"/>
<text x="336.3" y="51" font-size="5.2" text-anchor="middle" font-weight="normal" fill="#111" stroke="#111" stroke-width="0.16" transform="rotate(-90 336.3 51)">% Positive</text>
<text x="355.09999999999997" y="85.6" font-size="4.6" text-anchor="middle" font-weight="normal" fill="#111" stroke="#111" stroke-width="0.16">DMSO</text>
<text x="373.09999999999997" y="85.6" font-size="4.6" text-anchor="middle" font-weight="normal" fill="#111" stroke="#111" stroke-width="0.16">RA</text>
<line x1="352.9" y1="24.8" x2="375.5" y2="24.8" stroke="#000" stroke-width="1.1"/>
<circle cx="360.70" cy="21.5" r="1.15" fill="#000"/>
<circle cx="364.20" cy="21.5" r="1.15" fill="#000"/>
<circle cx="367.70" cy="21.5" r="1.15" fill="#000"/>
<text x="364.7" y="12.6" font-size="5.0" text-anchor="middle" font-weight="normal" fill="#111" stroke="#111" stroke-width="0.16">CD8<tspan dy="-1.9" font-size="3.4">+</tspan><tspan dy="1.9">CCR9</tspan><tspan dy="-1.9" font-size="3.4">+</tspan></text>
<line x1="401.3" y1="23.8" x2="401.3" y2="79.5" stroke="#000" stroke-width="0.9"/>
<line x1="400.85" y1="79.0" x2="436.8" y2="79.0" stroke="#000" stroke-width="0.9"/>
<line x1="399.7" y1="23.8" x2="401.3" y2="23.8" stroke="#000" stroke-width="0.7"/>
<text x="399.40000000000003" y="25.1" font-size="3.6" text-anchor="end" font-weight="normal" fill="#222" stroke="#222" stroke-width="0.16">80</text>
<line x1="399.7" y1="37.6" x2="401.3" y2="37.6" stroke="#000" stroke-width="0.7"/>
<text x="399.40000000000003" y="38.9" font-size="3.6" text-anchor="end" font-weight="normal" fill="#222" stroke="#222" stroke-width="0.16">60</text>
<line x1="399.7" y1="51.400000000000006" x2="401.3" y2="51.400000000000006" stroke="#000" stroke-width="0.7"/>
<text x="399.40000000000003" y="52.7" font-size="3.6" text-anchor="end" font-weight="normal" fill="#222" stroke="#222" stroke-width="0.16">40</text>
<line x1="399.7" y1="65.2" x2="401.3" y2="65.2" stroke="#000" stroke-width="0.7"/>
<text x="399.40000000000003" y="66.5" font-size="3.6" text-anchor="end" font-weight="normal" fill="#222" stroke="#222" stroke-width="0.16">20</text>
<line x1="399.7" y1="79.0" x2="401.3" y2="79.0" stroke="#000" stroke-width="0.7"/>
<text x="399.40000000000003" y="80.3" font-size="3.6" text-anchor="end" font-weight="normal" fill="#222" stroke="#222" stroke-width="0.16">0</text>
<line x1="410.5" y1="45.0" x2="410.5" y2="45.3" stroke="#000" stroke-width="0.8"/>
<line x1="407.5" y1="45.0" x2="413.5" y2="45.0" stroke="#000" stroke-width="0.9"/>
<rect x="404.1" y="45.3" width="12.800000000000011" height="33.7" fill="#000" stroke="none" stroke-width="1"/>
<line x1="410.5" y1="79.0" x2="410.5" y2="80.5" stroke="#000" stroke-width="0.7"/>
<line x1="428.70000000000005" y1="28.2" x2="428.70000000000005" y2="29.1" stroke="#000" stroke-width="0.8"/>
<line x1="425.70000000000005" y1="28.2" x2="431.70000000000005" y2="28.2" stroke="#000" stroke-width="0.9"/>
<rect x="422.8" y="29.6" width="11.800000000000011" height="49.4" fill="#fff" stroke="#000" stroke-width="1"/>
<line x1="428.70000000000005" y1="79.0" x2="428.70000000000005" y2="80.5" stroke="#000" stroke-width="0.7"/>
<text x="391.90000000000003" y="51" font-size="5.2" text-anchor="middle" font-weight="normal" fill="#111" stroke="#111" stroke-width="0.16" transform="rotate(-90 391.90000000000003 51)">% Positive</text>
<text x="410.7" y="85.6" font-size="4.6" text-anchor="middle" font-weight="normal" fill="#111" stroke="#111" stroke-width="0.16">DMSO</text>
<text x="428.7" y="85.6" font-size="4.6" text-anchor="middle" font-weight="normal" fill="#111" stroke="#111" stroke-width="0.16">RA</text>
<line x1="408.2" y1="22.5" x2="430.3" y2="22.5" stroke="#000" stroke-width="1.1"/>
<circle cx="415.75" cy="19.2" r="1.15" fill="#000"/>
<circle cx="419.25" cy="19.2" r="1.15" fill="#000"/>
<circle cx="422.75" cy="19.2" r="1.15" fill="#000"/>
<text x="419.8" y="12.6" font-size="5.0" text-anchor="middle" font-weight="normal" fill="#111" stroke="#111" stroke-width="0.16">CD4<tspan dy="-1.9" font-size="3.4">+</tspan><tspan dy="1.9">α4β7</tspan><tspan dy="-1.9" font-size="3.4">+</tspan></text>
<line x1="456.5" y1="23.2" x2="456.5" y2="79.2" stroke="#000" stroke-width="0.9"/>
<line x1="456.05" y1="78.7" x2="492.0" y2="78.7" stroke="#000" stroke-width="0.9"/>
<line x1="454.9" y1="23.2" x2="456.5" y2="23.2" stroke="#000" stroke-width="0.7"/>
<text x="454.6" y="24.5" font-size="3.6" text-anchor="end" font-weight="normal" fill="#222" stroke="#222" stroke-width="0.16">100</text>
<line x1="454.9" y1="34.3" x2="456.5" y2="34.3" stroke="#000" stroke-width="0.7"/>
<text x="454.6" y="35.599999999999994" font-size="3.6" text-anchor="end" font-weight="normal" fill="#222" stroke="#222" stroke-width="0.16">80</text>
<line x1="454.9" y1="45.4" x2="456.5" y2="45.4" stroke="#000" stroke-width="0.7"/>
<text x="454.6" y="46.699999999999996" font-size="3.6" text-anchor="end" font-weight="normal" fill="#222" stroke="#222" stroke-width="0.16">60</text>
<line x1="454.9" y1="56.5" x2="456.5" y2="56.5" stroke="#000" stroke-width="0.7"/>
<text x="454.6" y="57.8" font-size="3.6" text-anchor="end" font-weight="normal" fill="#222" stroke="#222" stroke-width="0.16">40</text>
<line x1="454.9" y1="67.6" x2="456.5" y2="67.6" stroke="#000" stroke-width="0.7"/>
<text x="454.6" y="68.89999999999999" font-size="3.6" text-anchor="end" font-weight="normal" fill="#222" stroke="#222" stroke-width="0.16">20</text>
<line x1="454.9" y1="78.7" x2="456.5" y2="78.7" stroke="#000" stroke-width="0.7"/>
<text x="454.6" y="80.0" font-size="3.6" text-anchor="end" font-weight="normal" fill="#222" stroke="#222" stroke-width="0.16">0</text>
<line x1="465.70000000000005" y1="44.6" x2="465.70000000000005" y2="44.9" stroke="#000" stroke-width="0.8"/>
<line x1="462.70000000000005" y1="44.6" x2="468.70000000000005" y2="44.6" stroke="#000" stroke-width="0.9"/>
<rect x="459.3" y="44.9" width="12.800000000000011" height="33.800000000000004" fill="#000" stroke="none" stroke-width="1"/>
<line x1="465.70000000000005" y1="78.7" x2="465.70000000000005" y2="80.2" stroke="#000" stroke-width="0.7"/>
<line x1="483.9" y1="34.2" x2="483.9" y2="34.7" stroke="#000" stroke-width="0.8"/>
<line x1="480.9" y1="34.2" x2="486.9" y2="34.2" stroke="#000" stroke-width="0.9"/>
<rect x="478.0" y="35.2" width="11.800000000000011" height="43.5" fill="#fff" stroke="#000" stroke-width="1"/>
<line x1="483.9" y1="78.7" x2="483.9" y2="80.2" stroke="#000" stroke-width="0.7"/>
<text x="447.1" y="51" font-size="5.2" text-anchor="middle" font-weight="normal" fill="#111" stroke="#111" stroke-width="0.16" transform="rotate(-90 447.1 51)">% Positive</text>
<text x="465.9" y="85.6" font-size="4.6" text-anchor="middle" font-weight="normal" fill="#111" stroke="#111" stroke-width="0.16">DMSO</text>
<text x="483.9" y="85.6" font-size="4.6" text-anchor="middle" font-weight="normal" fill="#111" stroke="#111" stroke-width="0.16">RA</text>
<line x1="463.2" y1="26.5" x2="485.3" y2="26.5" stroke="#000" stroke-width="1.1"/>
<circle cx="470.75" cy="23.2" r="1.15" fill="#000"/>
<circle cx="474.25" cy="23.2" r="1.15" fill="#000"/>
<circle cx="477.75" cy="23.2" r="1.15" fill="#000"/>
<text x="475.4" y="12.6" font-size="5.0" text-anchor="middle" font-weight="normal" fill="#111" stroke="#111" stroke-width="0.16">CD8<tspan dy="-1.9" font-size="3.4">+</tspan><tspan dy="1.9">α4β7</tspan><tspan dy="-1.9" font-size="3.4">+</tspan></text>
<line x1="33.1" y1="155.3" x2="33.1" y2="207.5" stroke="#000" stroke-width="0.9"/>
<line x1="32.65" y1="207.0" x2="115.2" y2="207.0" stroke="#000" stroke-width="0.9"/>
<line x1="31.5" y1="155.3" x2="33.1" y2="155.3" stroke="#000" stroke-width="0.7"/>
<text x="31.200000000000003" y="156.60000000000002" font-size="3.3" text-anchor="end" font-weight="normal" fill="#222" stroke="#222" stroke-width="0.16">100</text>
<line x1="31.5" y1="165.64000000000001" x2="33.1" y2="165.64000000000001" stroke="#000" stroke-width="0.7"/>
<text x="31.200000000000003" y="166.94000000000003" font-size="3.3" text-anchor="end" font-weight="normal" fill="#222" stroke="#222" stroke-width="0.16">80</text>
<line x1="31.5" y1="175.98000000000002" x2="33.1" y2="175.98000000000002" stroke="#000" stroke-width="0.7"/>
<text x="31.200000000000003" y="177.28000000000003" font-size="3.3" text-anchor="end" font-weight="normal" fill="#222" stroke="#222" stroke-width="0.16">60</text>
<line x1="31.5" y1="186.32" x2="33.1" y2="186.32" stroke="#000" stroke-width="0.7"/>
<text x="31.200000000000003" y="187.62" font-size="3.3" text-anchor="end" font-weight="normal" fill="#222" stroke="#222" stroke-width="0.16">40</text>
<line x1="31.5" y1="196.66" x2="33.1" y2="196.66" stroke="#000" stroke-width="0.7"/>
<text x="31.200000000000003" y="197.96" font-size="3.3" text-anchor="end" font-weight="normal" fill="#222" stroke="#222" stroke-width="0.16">20</text>
<line x1="31.5" y1="207.0" x2="33.1" y2="207.0" stroke="#000" stroke-width="0.7"/>
<text x="31.200000000000003" y="208.3" font-size="3.3" text-anchor="end" font-weight="normal" fill="#222" stroke="#222" stroke-width="0.16">0</text>
<line x1="43.3" y1="199.5" x2="43.3" y2="200.4" stroke="#000" stroke-width="0.8"/>
<line x1="40.3" y1="199.5" x2="46.3" y2="199.5" stroke="#000" stroke-width="0.9"/>
<rect x="36.2" y="200.4" width="14.199999999999996" height="6.599999999999994" fill="#000" stroke="none" stroke-width="1"/>
<line x1="43.3" y1="207.0" x2="43.3" y2="208.5" stroke="#000" stroke-width="0.7"/>
<line x1="63.7" y1="193.0" x2="63.7" y2="194.2" stroke="#000" stroke-width="0.8"/>
<line x1="60.7" y1="193.0" x2="66.7" y2="193.0" stroke="#000" stroke-width="0.9"/>
<rect x="56.6" y="194.2" width="14.199999999999996" height="12.800000000000011" fill="#000" stroke="none" stroke-width="1"/>
<line x1="63.7" y1="207.0" x2="63.7" y2="208.5" stroke="#000" stroke-width="0.7"/>
<line x1="84.19999999999999" y1="172.7" x2="84.19999999999999" y2="175.4" stroke="#000" stroke-width="0.8"/>
<line x1="81.19999999999999" y1="172.7" x2="87.19999999999999" y2="172.7" stroke="#000" stroke-width="0.9"/>
<rect x="77.1" y="175.4" width="14.200000000000003" height="31.599999999999994" fill="#000" stroke="none" stroke-width="1"/>
<line x1="84.19999999999999" y1="207.0" x2="84.19999999999999" y2="208.5" stroke="#000" stroke-width="0.7"/>
<line x1="104.69999999999999" y1="162.8" x2="104.69999999999999" y2="168.3" stroke="#000" stroke-width="0.8"/>
<line x1="101.69999999999999" y1="162.8" x2="107.69999999999999" y2="162.8" stroke="#000" stroke-width="0.9"/>
<rect x="97.6" y="168.3" width="14.200000000000003" height="38.69999999999999" fill="#000" stroke="none" stroke-width="1"/>
<line x1="104.69999999999999" y1="207.0" x2="104.69999999999999" y2="208.5" stroke="#000" stroke-width="0.7"/>
<text x="69.2" y="148.6" font-size="5.1" text-anchor="middle" font-weight="normal" fill="#111" stroke="#111" stroke-width="0.16">CD4<tspan dy="-1.9" font-size="3.4">+</tspan><tspan dy="1.9">CCR9</tspan><tspan dy="-1.9" font-size="3.4">+</tspan></text>
<text x="22.6" y="180.5" font-size="5.0" text-anchor="middle" font-weight="normal" fill="#111" stroke="#111" stroke-width="0.16" transform="rotate(-90 22.6 180.5)">% Positive</text>
<text x="44.4" y="211.6" font-size="4.1" text-anchor="end" fill="#333" stroke="#333" stroke-width="0.08" transform="rotate(-45 44.4 211.6)">DMSO</text>
<text x="64.8" y="211.6" font-size="4.1" text-anchor="end" fill="#333" stroke="#333" stroke-width="0.08" transform="rotate(-45 64.8 211.6)">RA 225 µg</text>
<text x="85.29999999999998" y="211.6" font-size="4.1" text-anchor="end" fill="#333" stroke="#333" stroke-width="0.08" transform="rotate(-45 85.29999999999998 211.6)">RA 450 µg</text>
<text x="105.79999999999998" y="211.6" font-size="4.1" text-anchor="end" fill="#333" stroke="#333" stroke-width="0.08" transform="rotate(-45 105.79999999999998 211.6)">RA 900 µg</text>
<line x1="141.2" y1="155.3" x2="141.2" y2="207.5" stroke="#000" stroke-width="0.9"/>
<line x1="140.75" y1="207.0" x2="222.0" y2="207.0" stroke="#000" stroke-width="0.9"/>
<line x1="139.6" y1="155.3" x2="141.2" y2="155.3" stroke="#000" stroke-width="0.7"/>
<text x="139.29999999999998" y="156.60000000000002" font-size="3.3" text-anchor="end" font-weight="normal" fill="#222" stroke="#222" stroke-width="0.16">100</text>
<line x1="139.6" y1="165.64000000000001" x2="141.2" y2="165.64000000000001" stroke="#000" stroke-width="0.7"/>
<text x="139.29999999999998" y="166.94000000000003" font-size="3.3" text-anchor="end" font-weight="normal" fill="#222" stroke="#222" stroke-width="0.16">80</text>
<line x1="139.6" y1="175.98000000000002" x2="141.2" y2="175.98000000000002" stroke="#000" stroke-width="0.7"/>
<text x="139.29999999999998" y="177.28000000000003" font-size="3.3" text-anchor="end" font-weight="normal" fill="#222" stroke="#222" stroke-width="0.16">60</text>
<line x1="139.6" y1="186.32" x2="141.2" y2="186.32" stroke="#000" stroke-width="0.7"/>
<text x="139.29999999999998" y="187.62" font-size="3.3" text-anchor="end" font-weight="normal" fill="#222" stroke="#222" stroke-width="0.16">40</text>
<line x1="139.6" y1="196.66" x2="141.2" y2="196.66" stroke="#000" stroke-width="0.7"/>
<text x="139.29999999999998" y="197.96" font-size="3.3" text-anchor="end" font-weight="normal" fill="#222" stroke="#222" stroke-width="0.16">20</text>
<line x1="139.6" y1="207.0" x2="141.2" y2="207.0" stroke="#000" stroke-width="0.7"/>
<text x="139.29999999999998" y="208.3" font-size="3.3" text-anchor="end" font-weight="normal" fill="#222" stroke="#222" stroke-width="0.16">0</text>
<line x1="151.39999999999998" y1="199.9" x2="151.39999999999998" y2="201.2" stroke="#000" stroke-width="0.8"/>
<line x1="148.39999999999998" y1="199.9" x2="154.39999999999998" y2="199.9" stroke="#000" stroke-width="0.9"/>
<rect x="144.2" y="201.2" width="14.400000000000006" height="5.800000000000011" fill="#000" stroke="none" stroke-width="1"/>
<line x1="151.39999999999998" y1="207.0" x2="151.39999999999998" y2="208.5" stroke="#000" stroke-width="0.7"/>
<line x1="171.8" y1="195.1" x2="171.8" y2="197.0" stroke="#000" stroke-width="0.8"/>
<line x1="168.8" y1="195.1" x2="174.8" y2="195.1" stroke="#000" stroke-width="0.9"/>
<rect x="164.8" y="197.0" width="14.0" height="10.0" fill="#000" stroke="none" stroke-width="1"/>
<line x1="171.8" y1="207.0" x2="171.8" y2="208.5" stroke="#000" stroke-width="0.7"/>
<line x1="191.85" y1="172.7" x2="191.85" y2="175.0" stroke="#000" stroke-width="0.8"/>
<line x1="188.85" y1="172.7" x2="194.85" y2="172.7" stroke="#000" stroke-width="0.9"/>
<rect x="185.0" y="175.0" width="13.699999999999989" height="32.0" fill="#000" stroke="none" stroke-width="1"/>
<line x1="191.85" y1="207.0" x2="191.85" y2="208.5" stroke="#000" stroke-width="0.7"/>
<line x1="212.60000000000002" y1="163.2" x2="212.60000000000002" y2="168.7" stroke="#000" stroke-width="0.8"/>
<line x1="209.60000000000002" y1="163.2" x2="215.60000000000002" y2="163.2" stroke="#000" stroke-width="0.9"/>
<rect x="205.4" y="168.7" width="14.400000000000006" height="38.30000000000001" fill="#000" stroke="none" stroke-width="1"/>
<line x1="212.60000000000002" y1="207.0" x2="212.60000000000002" y2="208.5" stroke="#000" stroke-width="0.7"/>
<text x="177.2" y="148.6" font-size="5.1" text-anchor="middle" font-weight="normal" fill="#111" stroke="#111" stroke-width="0.16">CD8<tspan dy="-1.9" font-size="3.4">+</tspan><tspan dy="1.9">CCR9</tspan><tspan dy="-1.9" font-size="3.4">+</tspan></text>
<text x="130.6" y="180.5" font-size="5.0" text-anchor="middle" font-weight="normal" fill="#111" stroke="#111" stroke-width="0.16" transform="rotate(-90 130.6 180.5)">% Positive</text>
<text x="152.49999999999997" y="211.6" font-size="4.1" text-anchor="end" fill="#333" stroke="#333" stroke-width="0.08" transform="rotate(-45 152.49999999999997 211.6)">DMSO</text>
<text x="172.9" y="211.6" font-size="4.1" text-anchor="end" fill="#333" stroke="#333" stroke-width="0.08" transform="rotate(-45 172.9 211.6)">RA 225 µg</text>
<text x="192.95" y="211.6" font-size="4.1" text-anchor="end" fill="#333" stroke="#333" stroke-width="0.08" transform="rotate(-45 192.95 211.6)">RA 450 µg</text>
<text x="213.70000000000002" y="211.6" font-size="4.1" text-anchor="end" fill="#333" stroke="#333" stroke-width="0.08" transform="rotate(-45 213.70000000000002 211.6)">RA 900 µg</text>
<line x1="32.9" y1="243.0" x2="32.9" y2="294.6" stroke="#000" stroke-width="0.9"/>
<line x1="32.449999999999996" y1="294.1" x2="114.5" y2="294.1" stroke="#000" stroke-width="0.9"/>
<line x1="31.299999999999997" y1="243.0" x2="32.9" y2="243.0" stroke="#000" stroke-width="0.7"/>
<text x="31.0" y="244.3" font-size="3.3" text-anchor="end" font-weight="normal" fill="#222" stroke="#222" stroke-width="0.16">100</text>
<line x1="31.299999999999997" y1="253.22" x2="32.9" y2="253.22" stroke="#000" stroke-width="0.7"/>
<text x="31.0" y="254.52" font-size="3.3" text-anchor="end" font-weight="normal" fill="#222" stroke="#222" stroke-width="0.16">80</text>
<line x1="31.299999999999997" y1="263.44" x2="32.9" y2="263.44" stroke="#000" stroke-width="0.7"/>
<text x="31.0" y="264.74" font-size="3.3" text-anchor="end" font-weight="normal" fill="#222" stroke="#222" stroke-width="0.16">60</text>
<line x1="31.299999999999997" y1="273.66" x2="32.9" y2="273.66" stroke="#000" stroke-width="0.7"/>
<text x="31.0" y="274.96000000000004" font-size="3.3" text-anchor="end" font-weight="normal" fill="#222" stroke="#222" stroke-width="0.16">40</text>
<line x1="31.299999999999997" y1="283.88" x2="32.9" y2="283.88" stroke="#000" stroke-width="0.7"/>
<text x="31.0" y="285.18" font-size="3.3" text-anchor="end" font-weight="normal" fill="#222" stroke="#222" stroke-width="0.16">20</text>
<line x1="31.299999999999997" y1="294.1" x2="32.9" y2="294.1" stroke="#000" stroke-width="0.7"/>
<text x="31.0" y="295.40000000000003" font-size="3.3" text-anchor="end" font-weight="normal" fill="#222" stroke="#222" stroke-width="0.16">0</text>
<line x1="43.3" y1="275.4" x2="43.3" y2="277.4" stroke="#000" stroke-width="0.8"/>
<line x1="40.3" y1="275.4" x2="46.3" y2="275.4" stroke="#000" stroke-width="0.9"/>
<rect x="36.2" y="277.4" width="14.199999999999996" height="16.700000000000045" fill="#000" stroke="none" stroke-width="1"/>
<line x1="43.3" y1="294.1" x2="43.3" y2="295.6" stroke="#000" stroke-width="0.7"/>
<line x1="63.3" y1="272.6" x2="63.3" y2="275.0" stroke="#000" stroke-width="0.8"/>
<line x1="60.3" y1="272.6" x2="66.3" y2="272.6" stroke="#000" stroke-width="0.9"/>
<rect x="56.1" y="275.0" width="14.399999999999999" height="19.100000000000023" fill="#000" stroke="none" stroke-width="1"/>
<line x1="63.3" y1="294.1" x2="63.3" y2="295.6" stroke="#000" stroke-width="0.7"/>
<line x1="83.65" y1="257.7" x2="83.65" y2="260.0" stroke="#000" stroke-width="0.8"/>
<line x1="80.65" y1="257.7" x2="86.65" y2="257.7" stroke="#000" stroke-width="0.9"/>
<rect x="76.5" y="260.0" width="14.299999999999997" height="34.10000000000002" fill="#000" stroke="none" stroke-width="1"/>
<line x1="83.65" y1="294.1" x2="83.65" y2="295.6" stroke="#000" stroke-width="0.7"/>
<line x1="103.8" y1="253.8" x2="103.8" y2="258.2" stroke="#000" stroke-width="0.8"/>
<line x1="100.8" y1="253.8" x2="106.8" y2="253.8" stroke="#000" stroke-width="0.9"/>
<rect x="96.8" y="258.2" width="14.0" height="35.900000000000034" fill="#000" stroke="none" stroke-width="1"/>
<line x1="103.8" y1="294.1" x2="103.8" y2="295.6" stroke="#000" stroke-width="0.7"/>
<text x="69.5" y="237.2" font-size="5.1" text-anchor="middle" font-weight="normal" fill="#111" stroke="#111" stroke-width="0.16">CD4<tspan dy="-1.9" font-size="3.4">+</tspan><tspan dy="1.9">α4β7</tspan><tspan dy="-1.9" font-size="3.4">+</tspan></text>
<text x="22.6" y="268.7" font-size="5.0" text-anchor="middle" font-weight="normal" fill="#111" stroke="#111" stroke-width="0.16" transform="rotate(-90 22.6 268.7)">% Positive</text>
<text x="44.4" y="298.70000000000005" font-size="4.1" text-anchor="end" fill="#333" stroke="#333" stroke-width="0.08" transform="rotate(-45 44.4 298.70000000000005)">DMSO</text>
<text x="64.39999999999999" y="298.70000000000005" font-size="4.1" text-anchor="end" fill="#333" stroke="#333" stroke-width="0.08" transform="rotate(-45 64.39999999999999 298.70000000000005)">RA 225 µg</text>
<text x="84.75" y="298.70000000000005" font-size="4.1" text-anchor="end" fill="#333" stroke="#333" stroke-width="0.08" transform="rotate(-45 84.75 298.70000000000005)">RA 450 µg</text>
<text x="104.89999999999999" y="298.70000000000005" font-size="4.1" text-anchor="end" fill="#333" stroke="#333" stroke-width="0.08" transform="rotate(-45 104.89999999999999 298.70000000000005)">RA 900 µg</text>
<line x1="140.5" y1="243.0" x2="140.5" y2="294.6" stroke="#000" stroke-width="0.9"/>
<line x1="140.05" y1="294.1" x2="221.5" y2="294.1" stroke="#000" stroke-width="0.9"/>
<line x1="138.9" y1="243.0" x2="140.5" y2="243.0" stroke="#000" stroke-width="0.7"/>
<text x="138.6" y="244.3" font-size="3.3" text-anchor="end" font-weight="normal" fill="#222" stroke="#222" stroke-width="0.16">100</text>
<line x1="138.9" y1="253.22" x2="140.5" y2="253.22" stroke="#000" stroke-width="0.7"/>
<text x="138.6" y="254.52" font-size="3.3" text-anchor="end" font-weight="normal" fill="#222" stroke="#222" stroke-width="0.16">80</text>
<line x1="138.9" y1="263.44" x2="140.5" y2="263.44" stroke="#000" stroke-width="0.7"/>
<text x="138.6" y="264.74" font-size="3.3" text-anchor="end" font-weight="normal" fill="#222" stroke="#222" stroke-width="0.16">60</text>
<line x1="138.9" y1="273.66" x2="140.5" y2="273.66" stroke="#000" stroke-width="0.7"/>
<text x="138.6" y="274.96000000000004" font-size="3.3" text-anchor="end" font-weight="normal" fill="#222" stroke="#222" stroke-width="0.16">40</text>
<line x1="138.9" y1="283.88" x2="140.5" y2="283.88" stroke="#000" stroke-width="0.7"/>
<text x="138.6" y="285.18" font-size="3.3" text-anchor="end" font-weight="normal" fill="#222" stroke="#222" stroke-width="0.16">20</text>
<line x1="138.9" y1="294.1" x2="140.5" y2="294.1" stroke="#000" stroke-width="0.7"/>
<text x="138.6" y="295.40000000000003" font-size="3.3" text-anchor="end" font-weight="normal" fill="#222" stroke="#222" stroke-width="0.16">0</text>
<line x1="150.25" y1="268.6" x2="150.25" y2="270.8" stroke="#000" stroke-width="0.8"/>
<line x1="147.25" y1="268.6" x2="153.25" y2="268.6" stroke="#000" stroke-width="0.9"/>
<rect x="143.4" y="270.8" width="13.699999999999989" height="23.30000000000001" fill="#000" stroke="none" stroke-width="1"/>
<line x1="150.25" y1="294.1" x2="150.25" y2="295.6" stroke="#000" stroke-width="0.7"/>
<line x1="170.55" y1="268.6" x2="170.55" y2="269.2" stroke="#000" stroke-width="0.8"/>
<line x1="167.55" y1="268.6" x2="173.55" y2="268.6" stroke="#000" stroke-width="0.9"/>
<rect x="163.7" y="269.2" width="13.700000000000017" height="24.900000000000034" fill="#000" stroke="none" stroke-width="1"/>
<line x1="170.55" y1="294.1" x2="170.55" y2="295.6" stroke="#000" stroke-width="0.7"/>
<line x1="190.8" y1="255.3" x2="190.8" y2="257.1" stroke="#000" stroke-width="0.8"/>
<line x1="187.8" y1="255.3" x2="193.8" y2="255.3" stroke="#000" stroke-width="0.9"/>
<rect x="183.6" y="257.1" width="14.400000000000006" height="37.0" fill="#000" stroke="none" stroke-width="1"/>
<line x1="190.8" y1="294.1" x2="190.8" y2="295.6" stroke="#000" stroke-width="0.7"/>
<line x1="210.7" y1="251.5" x2="210.7" y2="254.4" stroke="#000" stroke-width="0.8"/>
<line x1="207.7" y1="251.5" x2="213.7" y2="251.5" stroke="#000" stroke-width="0.9"/>
<rect x="203.5" y="254.4" width="14.400000000000006" height="39.70000000000002" fill="#000" stroke="none" stroke-width="1"/>
<line x1="210.7" y1="294.1" x2="210.7" y2="295.6" stroke="#000" stroke-width="0.7"/>
<text x="176.5" y="237.6" font-size="5.1" text-anchor="middle" font-weight="normal" fill="#111" stroke="#111" stroke-width="0.16">CD8<tspan dy="-1.9" font-size="3.4">+</tspan><tspan dy="1.9">α4β7</tspan><tspan dy="-1.9" font-size="3.4">+</tspan></text>
<text x="130.6" y="268.7" font-size="5.0" text-anchor="middle" font-weight="normal" fill="#111" stroke="#111" stroke-width="0.16" transform="rotate(-90 130.6 268.7)">% Positive</text>
<text x="151.35" y="298.70000000000005" font-size="4.1" text-anchor="end" fill="#333" stroke="#333" stroke-width="0.08" transform="rotate(-45 151.35 298.70000000000005)">DMSO</text>
<text x="171.65" y="298.70000000000005" font-size="4.1" text-anchor="end" fill="#333" stroke="#333" stroke-width="0.08" transform="rotate(-45 171.65 298.70000000000005)">RA 225 µg</text>
<text x="191.9" y="298.70000000000005" font-size="4.1" text-anchor="end" fill="#333" stroke="#333" stroke-width="0.08" transform="rotate(-45 191.9 298.70000000000005)">RA 450 µg</text>
<text x="211.79999999999998" y="298.70000000000005" font-size="4.1" text-anchor="end" fill="#333" stroke="#333" stroke-width="0.08" transform="rotate(-45 211.79999999999998 298.70000000000005)">RA 900 µg</text>
<line x1="23.9" y1="344.5" x2="23.9" y2="399.7" stroke="#000" stroke-width="0.9"/>
<line x1="23.45" y1="399.2" x2="59.1" y2="399.2" stroke="#000" stroke-width="0.9"/>
<line x1="22.299999999999997" y1="344.5" x2="23.9" y2="344.5" stroke="#000" stroke-width="0.7"/>
<text x="22.0" y="345.8" font-size="3.6" text-anchor="end" font-weight="normal" fill="#222" stroke="#222" stroke-width="0.16">80</text>
<line x1="22.299999999999997" y1="358.175" x2="23.9" y2="358.175" stroke="#000" stroke-width="0.7"/>
<text x="22.0" y="359.475" font-size="3.6" text-anchor="end" font-weight="normal" fill="#222" stroke="#222" stroke-width="0.16">60</text>
<line x1="22.299999999999997" y1="371.85" x2="23.9" y2="371.85" stroke="#000" stroke-width="0.7"/>
<text x="22.0" y="373.15000000000003" font-size="3.6" text-anchor="end" font-weight="normal" fill="#222" stroke="#222" stroke-width="0.16">40</text>
<line x1="22.299999999999997" y1="385.525" x2="23.9" y2="385.525" stroke="#000" stroke-width="0.7"/>
<text x="22.0" y="386.825" font-size="3.6" text-anchor="end" font-weight="normal" fill="#222" stroke="#222" stroke-width="0.16">20</text>
<line x1="22.299999999999997" y1="399.2" x2="23.9" y2="399.2" stroke="#000" stroke-width="0.7"/>
<text x="22.0" y="400.5" font-size="3.6" text-anchor="end" font-weight="normal" fill="#222" stroke="#222" stroke-width="0.16">0</text>
<line x1="33.05" y1="357.2" x2="33.05" y2="359.0" stroke="#000" stroke-width="0.8"/>
<line x1="30.049999999999997" y1="357.2" x2="36.05" y2="357.2" stroke="#000" stroke-width="0.9"/>
<rect x="26.8" y="359.0" width="12.499999999999996" height="40.19999999999999" fill="#000" stroke="none" stroke-width="1"/>
<line x1="33.05" y1="399.2" x2="33.05" y2="400.7" stroke="#000" stroke-width="0.7"/>
<line x1="51.150000000000006" y1="355.2" x2="51.150000000000006" y2="356.3" stroke="#000" stroke-width="0.8"/>
<line x1="48.150000000000006" y1="355.2" x2="54.150000000000006" y2="355.2" stroke="#000" stroke-width="0.9"/>
<rect x="45.2" y="356.8" width="11.899999999999999" height="42.39999999999998" fill="#fff" stroke="#000" stroke-width="1"/>
<line x1="51.150000000000006" y1="399.2" x2="51.150000000000006" y2="400.7" stroke="#000" stroke-width="0.7"/>
<text x="14.7" y="371.5" font-size="5.0" text-anchor="middle" font-weight="normal" fill="#111" stroke="#111" stroke-width="0.16" transform="rotate(-90 14.7 371.5)">% Positive</text>
<text x="33.3" y="405.8" font-size="4.6" text-anchor="middle" font-weight="normal" fill="#111" stroke="#111" stroke-width="0.16">DMSO</text>
<text x="51.3" y="405.8" font-size="4.6" text-anchor="middle" font-weight="normal" fill="#111" stroke="#111" stroke-width="0.16">RA</text>
<line x1="30.5" y1="350.8" x2="54.2" y2="350.8" stroke="#000" stroke-width="1.1"/>
<text x="42.35" y="348.6" font-size="5.1" text-anchor="middle" font-weight="normal" fill="#000" stroke="#000" stroke-width="0.16">NS</text>
<text x="41.6" y="336.2" font-size="5.15" text-anchor="middle" font-weight="normal" fill="#111" stroke="#111" stroke-width="0.16">CD4<tspan dy="-1.9" font-size="3.4">+</tspan><tspan dy="1.9">CXCR3</tspan><tspan dy="-1.9" font-size="3.4">+</tspan></text>
<line x1="83.6" y1="343.0" x2="83.6" y2="398.7" stroke="#000" stroke-width="0.9"/>
<line x1="83.14999999999999" y1="398.2" x2="118.4" y2="398.2" stroke="#000" stroke-width="0.9"/>
<line x1="82.0" y1="343.0" x2="83.6" y2="343.0" stroke="#000" stroke-width="0.7"/>
<text x="81.69999999999999" y="344.3" font-size="3.6" text-anchor="end" font-weight="normal" fill="#222" stroke="#222" stroke-width="0.16">80</text>
<line x1="82.0" y1="356.8" x2="83.6" y2="356.8" stroke="#000" stroke-width="0.7"/>
<text x="81.69999999999999" y="358.1" font-size="3.6" text-anchor="end" font-weight="normal" fill="#222" stroke="#222" stroke-width="0.16">60</text>
<line x1="82.0" y1="370.6" x2="83.6" y2="370.6" stroke="#000" stroke-width="0.7"/>
<text x="81.69999999999999" y="371.90000000000003" font-size="3.6" text-anchor="end" font-weight="normal" fill="#222" stroke="#222" stroke-width="0.16">40</text>
<line x1="82.0" y1="384.4" x2="83.6" y2="384.4" stroke="#000" stroke-width="0.7"/>
<text x="81.69999999999999" y="385.7" font-size="3.6" text-anchor="end" font-weight="normal" fill="#222" stroke="#222" stroke-width="0.16">20</text>
<line x1="82.0" y1="398.2" x2="83.6" y2="398.2" stroke="#000" stroke-width="0.7"/>
<text x="81.69999999999999" y="399.5" font-size="3.6" text-anchor="end" font-weight="normal" fill="#222" stroke="#222" stroke-width="0.16">0</text>
<line x1="92.45" y1="358.8" x2="92.45" y2="360.0" stroke="#000" stroke-width="0.8"/>
<line x1="89.45" y1="358.8" x2="95.45" y2="358.8" stroke="#000" stroke-width="0.9"/>
<rect x="85.9" y="360.0" width="13.099999999999994" height="38.19999999999999" fill="#000" stroke="none" stroke-width="1"/>
<line x1="92.45" y1="398.2" x2="92.45" y2="399.7" stroke="#000" stroke-width="0.7"/>
<line x1="110.7" y1="355.2" x2="110.7" y2="356.3" stroke="#000" stroke-width="0.8"/>
<line x1="107.7" y1="355.2" x2="113.7" y2="355.2" stroke="#000" stroke-width="0.9"/>
<rect x="105.0" y="356.8" width="11.400000000000006" height="41.39999999999998" fill="#fff" stroke="#000" stroke-width="1"/>
<line x1="110.7" y1="398.2" x2="110.7" y2="399.7" stroke="#000" stroke-width="0.7"/>
<text x="74.5" y="371.7" font-size="5.0" text-anchor="middle" font-weight="normal" fill="#111" stroke="#111" stroke-width="0.16" transform="rotate(-90 74.5 371.7)">% Positive</text>
<text x="92.8" y="404.2" font-size="4.6" text-anchor="middle" font-weight="normal" fill="#111" stroke="#111" stroke-width="0.16">DMSO</text>
<text x="111.0" y="404.2" font-size="4.6" text-anchor="middle" font-weight="normal" fill="#111" stroke="#111" stroke-width="0.16">RA</text>
<line x1="90.0" y1="351.1" x2="113.0" y2="351.1" stroke="#000" stroke-width="1.1"/>
<text x="101.5" y="349.1" font-size="5.1" text-anchor="middle" font-weight="normal" fill="#000" stroke="#000" stroke-width="0.16">NS</text>
<text x="100.8" y="333.9" font-size="5.15" text-anchor="middle" font-weight="normal" fill="#111" stroke="#111" stroke-width="0.16">CD8<tspan dy="-1.9" font-size="3.4">+</tspan><tspan dy="1.9">CXCR3</tspan><tspan dy="-1.9" font-size="3.4">+</tspan></text>
<line x1="143.6" y1="343.0" x2="143.6" y2="398.6" stroke="#000" stroke-width="0.9"/>
<line x1="143.15" y1="398.1" x2="179.5" y2="398.1" stroke="#000" stroke-width="0.9"/>
<line x1="142.0" y1="343.0" x2="143.6" y2="343.0" stroke="#000" stroke-width="0.7"/>
<text x="141.7" y="344.3" font-size="3.6" text-anchor="end" font-weight="normal" fill="#222" stroke="#222" stroke-width="0.16">20</text>
<line x1="142.0" y1="356.775" x2="143.6" y2="356.775" stroke="#000" stroke-width="0.7"/>
<text x="141.7" y="358.075" font-size="3.6" text-anchor="end" font-weight="normal" fill="#222" stroke="#222" stroke-width="0.16">15</text>
<line x1="142.0" y1="370.55" x2="143.6" y2="370.55" stroke="#000" stroke-width="0.7"/>
<text x="141.7" y="371.85" font-size="3.6" text-anchor="end" font-weight="normal" fill="#222" stroke="#222" stroke-width="0.16">10</text>
<line x1="142.0" y1="384.32500000000005" x2="143.6" y2="384.32500000000005" stroke="#000" stroke-width="0.7"/>
<text x="141.7" y="385.62500000000006" font-size="3.6" text-anchor="end" font-weight="normal" fill="#222" stroke="#222" stroke-width="0.16">5</text>
<line x1="142.0" y1="398.1" x2="143.6" y2="398.1" stroke="#000" stroke-width="0.7"/>
<text x="141.7" y="399.40000000000003" font-size="3.6" text-anchor="end" font-weight="normal" fill="#222" stroke="#222" stroke-width="0.16">0</text>
<line x1="152.85000000000002" y1="361.4" x2="152.85000000000002" y2="367.8" stroke="#000" stroke-width="0.8"/>
<line x1="149.85000000000002" y1="361.4" x2="155.85000000000002" y2="361.4" stroke="#000" stroke-width="0.9"/>
<rect x="146.4" y="367.8" width="12.900000000000006" height="30.30000000000001" fill="#000" stroke="none" stroke-width="1"/>
<line x1="152.85000000000002" y1="398.1" x2="152.85000000000002" y2="399.6" stroke="#000" stroke-width="0.7"/>
<line x1="171.8" y1="346.6" x2="171.8" y2="352.3" stroke="#000" stroke-width="0.8"/>
<line x1="168.8" y1="346.6" x2="174.8" y2="346.6" stroke="#000" stroke-width="0.9"/>
<rect x="166.1" y="352.8" width="11.400000000000006" height="45.30000000000001" fill="#fff" stroke="#000" stroke-width="1"/>
<line x1="171.8" y1="398.1" x2="171.8" y2="399.6" stroke="#000" stroke-width="0.7"/>
<text x="134.7" y="372.2" font-size="5.0" text-anchor="middle" font-weight="normal" fill="#111" stroke="#111" stroke-width="0.16" transform="rotate(-90 134.7 372.2)">% Positive</text>
<text x="152.6" y="404.2" font-size="4.6" text-anchor="middle" font-weight="normal" fill="#111" stroke="#111" stroke-width="0.16">DMSO</text>
<text x="170.1" y="404.2" font-size="4.6" text-anchor="middle" font-weight="normal" fill="#111" stroke="#111" stroke-width="0.16">RA</text>
<line x1="150.3" y1="343.2" x2="173.5" y2="343.2" stroke="#000" stroke-width="1.1"/>
<text x="161.9" y="341.0" font-size="5.1" text-anchor="middle" font-weight="normal" fill="#000" stroke="#000" stroke-width="0.16">NS</text>
<text x="160.0" y="331.0" font-size="5.15" text-anchor="middle" font-weight="normal" fill="#111" stroke="#111" stroke-width="0.16">CD4<tspan dy="-1.9" font-size="3.4">+</tspan><tspan dy="1.9">CCR5</tspan><tspan dy="-1.9" font-size="3.4">+</tspan></text>
<line x1="203.9" y1="342.4" x2="203.9" y2="397.7" stroke="#000" stroke-width="0.9"/>
<line x1="203.45000000000002" y1="397.2" x2="239.6" y2="397.2" stroke="#000" stroke-width="0.9"/>
<line x1="202.3" y1="342.4" x2="203.9" y2="342.4" stroke="#000" stroke-width="0.7"/>
<text x="202.0" y="343.7" font-size="3.6" text-anchor="end" font-weight="normal" fill="#222" stroke="#222" stroke-width="0.16">20</text>
<line x1="202.3" y1="356.09999999999997" x2="203.9" y2="356.09999999999997" stroke="#000" stroke-width="0.7"/>
<text x="202.0" y="357.4" font-size="3.6" text-anchor="end" font-weight="normal" fill="#222" stroke="#222" stroke-width="0.16">15</text>
<line x1="202.3" y1="369.79999999999995" x2="203.9" y2="369.79999999999995" stroke="#000" stroke-width="0.7"/>
<text x="202.0" y="371.09999999999997" font-size="3.6" text-anchor="end" font-weight="normal" fill="#222" stroke="#222" stroke-width="0.16">10</text>
<line x1="202.3" y1="383.5" x2="203.9" y2="383.5" stroke="#000" stroke-width="0.7"/>
<text x="202.0" y="384.8" font-size="3.6" text-anchor="end" font-weight="normal" fill="#222" stroke="#222" stroke-width="0.16">5</text>
<line x1="202.3" y1="397.2" x2="203.9" y2="397.2" stroke="#000" stroke-width="0.7"/>
<text x="202.0" y="398.5" font-size="3.6" text-anchor="end" font-weight="normal" fill="#222" stroke="#222" stroke-width="0.16">0</text>
<line x1="213.25" y1="360.7" x2="213.25" y2="366.7" stroke="#000" stroke-width="0.8"/>
<line x1="210.25" y1="360.7" x2="216.25" y2="360.7" stroke="#000" stroke-width="0.9"/>
<rect x="206.8" y="366.7" width="12.899999999999977" height="30.5" fill="#000" stroke="none" stroke-width="1"/>
<line x1="213.25" y1="397.2" x2="213.25" y2="398.7" stroke="#000" stroke-width="0.7"/>
<line x1="232.1" y1="352.3" x2="232.1" y2="356.3" stroke="#000" stroke-width="0.8"/>
<line x1="229.1" y1="352.3" x2="235.1" y2="352.3" stroke="#000" stroke-width="0.9"/>
<rect x="226.6" y="356.8" width="11.0" height="40.39999999999998" fill="#fff" stroke="#000" stroke-width="1"/>
<line x1="232.1" y1="397.2" x2="232.1" y2="398.7" stroke="#000" stroke-width="0.7"/>
<text x="194.7" y="370.0" font-size="5.0" text-anchor="middle" font-weight="normal" fill="#111" stroke="#111" stroke-width="0.16" transform="rotate(-90 194.7 370.0)">% Positive</text>
<text x="212.6" y="403.5" font-size="4.6" text-anchor="middle" font-weight="normal" fill="#111" stroke="#111" stroke-width="0.16">DMSO</text>
<text x="230.4" y="403.5" font-size="4.6" text-anchor="middle" font-weight="normal" fill="#111" stroke="#111" stroke-width="0.16">RA</text>
<line x1="211.0" y1="347.3" x2="234.2" y2="347.3" stroke="#000" stroke-width="1.1"/>
<text x="222.6" y="344.8" font-size="5.1" text-anchor="middle" font-weight="normal" fill="#000" stroke="#000" stroke-width="0.16">NS</text>
<text x="221.1" y="332.3" font-size="5.15" text-anchor="middle" font-weight="normal" fill="#111" stroke="#111" stroke-width="0.16">CD8<tspan dy="-1.9" font-size="3.4">+</tspan><tspan dy="1.9">CCR5</tspan><tspan dy="-1.9" font-size="3.4">+</tspan></text>
<line x1="276.0" y1="294.4" x2="276.0" y2="349.8" stroke="#000" stroke-width="0.9"/>
<line x1="275.55" y1="349.3" x2="311.8" y2="349.3" stroke="#000" stroke-width="0.9"/>
<line x1="274.4" y1="294.4" x2="276.0" y2="294.4" stroke="#000" stroke-width="0.7"/>
<text x="274.1" y="295.7" font-size="3.6" text-anchor="end" font-weight="normal" fill="#222" stroke="#222" stroke-width="0.16">25</text>
<line x1="274.4" y1="305.38" x2="276.0" y2="305.38" stroke="#000" stroke-width="0.7"/>
<text x="274.1" y="306.68" font-size="3.6" text-anchor="end" font-weight="normal" fill="#222" stroke="#222" stroke-width="0.16">20</text>
<line x1="274.4" y1="316.36" x2="276.0" y2="316.36" stroke="#000" stroke-width="0.7"/>
<text x="274.1" y="317.66" font-size="3.6" text-anchor="end" font-weight="normal" fill="#222" stroke="#222" stroke-width="0.16">15</text>
<line x1="274.4" y1="327.34" x2="276.0" y2="327.34" stroke="#000" stroke-width="0.7"/>
<text x="274.1" y="328.64" font-size="3.6" text-anchor="end" font-weight="normal" fill="#222" stroke="#222" stroke-width="0.16">10</text>
<line x1="274.4" y1="338.32" x2="276.0" y2="338.32" stroke="#000" stroke-width="0.7"/>
<text x="274.1" y="339.62" font-size="3.6" text-anchor="end" font-weight="normal" fill="#222" stroke="#222" stroke-width="0.16">5</text>
<line x1="274.4" y1="349.3" x2="276.0" y2="349.3" stroke="#000" stroke-width="0.7"/>
<text x="274.1" y="350.6" font-size="3.6" text-anchor="end" font-weight="normal" fill="#222" stroke="#222" stroke-width="0.16">0</text>
<line x1="285.15" y1="309.3" x2="285.15" y2="313.3" stroke="#000" stroke-width="0.8"/>
<line x1="282.15" y1="309.3" x2="288.15" y2="309.3" stroke="#000" stroke-width="0.9"/>
<rect x="278.6" y="313.3" width="13.099999999999966" height="36.0" fill="#000" stroke="none" stroke-width="1"/>
<line x1="285.15" y1="349.3" x2="285.15" y2="350.8" stroke="#000" stroke-width="0.7"/>
<line x1="303.45" y1="302.5" x2="303.45" y2="307.4" stroke="#000" stroke-width="0.8"/>
<line x1="300.45" y1="302.5" x2="306.45" y2="302.5" stroke="#000" stroke-width="0.9"/>
<rect x="297.7" y="307.9" width="11.5" height="41.400000000000034" fill="#fff" stroke="#000" stroke-width="1"/>
<line x1="303.45" y1="349.3" x2="303.45" y2="350.8" stroke="#000" stroke-width="0.7"/>
<text x="266.3" y="321.2" font-size="5.0" text-anchor="middle" font-weight="normal" fill="#111" stroke="#111" stroke-width="0.16" transform="rotate(-90 266.3 321.2)">% Positive</text>
<text x="284.7" y="356.4" font-size="4.6" text-anchor="middle" font-weight="normal" fill="#111" stroke="#111" stroke-width="0.16">DMSO</text>
<text x="301.1" y="356.4" font-size="4.6" text-anchor="middle" font-weight="normal" fill="#111" stroke="#111" stroke-width="0.16">RA</text>
<line x1="283.4" y1="299.5" x2="304.0" y2="299.5" stroke="#000" stroke-width="1.1"/>
<text x="293.7" y="297.3" font-size="5.1" text-anchor="middle" font-weight="normal" fill="#000" stroke="#000" stroke-width="0.16">NS</text>
<text x="293.4" y="286.2" font-size="5.15" text-anchor="middle" font-weight="normal" fill="#111" stroke="#111" stroke-width="0.16">CD4<tspan dy="-1.9" font-size="3.4">+</tspan><tspan dy="1.9">CCR10</tspan><tspan dy="-1.9" font-size="3.4">+</tspan></text>
<line x1="330.8" y1="294.7" x2="330.8" y2="350.5" stroke="#000" stroke-width="0.9"/>
<line x1="330.35" y1="350.0" x2="366.2" y2="350.0" stroke="#000" stroke-width="0.9"/>
<line x1="329.2" y1="294.7" x2="330.8" y2="294.7" stroke="#000" stroke-width="0.7"/>
<text x="328.90000000000003" y="296.0" font-size="3.6" text-anchor="end" font-weight="normal" fill="#222" stroke="#222" stroke-width="0.16">20</text>
<line x1="329.2" y1="308.525" x2="330.8" y2="308.525" stroke="#000" stroke-width="0.7"/>
<text x="328.90000000000003" y="309.825" font-size="3.6" text-anchor="end" font-weight="normal" fill="#222" stroke="#222" stroke-width="0.16">15</text>
<line x1="329.2" y1="322.35" x2="330.8" y2="322.35" stroke="#000" stroke-width="0.7"/>
<text x="328.90000000000003" y="323.65000000000003" font-size="3.6" text-anchor="end" font-weight="normal" fill="#222" stroke="#222" stroke-width="0.16">10</text>
<line x1="329.2" y1="336.175" x2="330.8" y2="336.175" stroke="#000" stroke-width="0.7"/>
<text x="328.90000000000003" y="337.475" font-size="3.6" text-anchor="end" font-weight="normal" fill="#222" stroke="#222" stroke-width="0.16">5</text>
<line x1="329.2" y1="350.0" x2="330.8" y2="350.0" stroke="#000" stroke-width="0.7"/>
<text x="328.90000000000003" y="351.3" font-size="3.6" text-anchor="end" font-weight="normal" fill="#222" stroke="#222" stroke-width="0.16">0</text>
<line x1="340.15" y1="304.2" x2="340.15" y2="308.2" stroke="#000" stroke-width="0.8"/>
<line x1="337.15" y1="304.2" x2="343.15" y2="304.2" stroke="#000" stroke-width="0.9"/>
<rect x="333.7" y="308.2" width="12.900000000000034" height="41.80000000000001" fill="#000" stroke="none" stroke-width="1"/>
<line x1="340.15" y1="350.0" x2="340.15" y2="351.5" stroke="#000" stroke-width="0.7"/>
<line x1="358.04999999999995" y1="301.4" x2="358.04999999999995" y2="306.4" stroke="#000" stroke-width="0.8"/>
<line x1="355.04999999999995" y1="301.4" x2="361.04999999999995" y2="301.4" stroke="#000" stroke-width="0.9"/>
<rect x="351.9" y="306.9" width="12.300000000000011" height="43.10000000000002" fill="#fff" stroke="#000" stroke-width="1"/>
<line x1="358.04999999999995" y1="350.0" x2="358.04999999999995" y2="351.5" stroke="#000" stroke-width="0.7"/>
<text x="321.9" y="322.0" font-size="5.0" text-anchor="middle" font-weight="normal" fill="#111" stroke="#111" stroke-width="0.16" transform="rotate(-90 321.9 322.0)">% Positive</text>
<text x="339.8" y="356.6" font-size="4.6" text-anchor="middle" font-weight="normal" fill="#111" stroke="#111" stroke-width="0.16">DMSO</text>
<text x="358.6" y="356.6" font-size="4.6" text-anchor="middle" font-weight="normal" fill="#111" stroke="#111" stroke-width="0.16">RA</text>
<line x1="337.1" y1="298.3" x2="360.3" y2="298.3" stroke="#000" stroke-width="1.1"/>
<text x="348.70000000000005" y="296.5" font-size="5.1" text-anchor="middle" font-weight="normal" fill="#000" stroke="#000" stroke-width="0.16">NS</text>
<text x="350.5" y="284.7" font-size="5.15" text-anchor="middle" font-weight="normal" fill="#111" stroke="#111" stroke-width="0.16">CD8<tspan dy="-1.9" font-size="3.4">+</tspan><tspan dy="1.9">CCR10</tspan><tspan dy="-1.9" font-size="3.4">+</tspan></text>
<line x1="422.6" y1="257.2" x2="422.6" y2="312.9" stroke="#000" stroke-width="0.9"/>
<line x1="422.15000000000003" y1="312.4" x2="457.4" y2="312.4" stroke="#000" stroke-width="0.9"/>
<line x1="421.0" y1="257.2" x2="422.6" y2="257.2" stroke="#000" stroke-width="0.7"/>
<text x="420.70000000000005" y="258.5" font-size="3.6" text-anchor="end" font-weight="normal" fill="#222" stroke="#222" stroke-width="0.16">40</text>
<line x1="421.0" y1="271.0" x2="422.6" y2="271.0" stroke="#000" stroke-width="0.7"/>
<text x="420.70000000000005" y="272.3" font-size="3.6" text-anchor="end" font-weight="normal" fill="#222" stroke="#222" stroke-width="0.16">30</text>
<line x1="421.0" y1="284.79999999999995" x2="422.6" y2="284.79999999999995" stroke="#000" stroke-width="0.7"/>
<text x="420.70000000000005" y="286.09999999999997" font-size="3.6" text-anchor="end" font-weight="normal" fill="#222" stroke="#222" stroke-width="0.16">20</text>
<line x1="421.0" y1="298.59999999999997" x2="422.6" y2="298.59999999999997" stroke="#000" stroke-width="0.7"/>
<text x="420.70000000000005" y="299.9" font-size="3.6" text-anchor="end" font-weight="normal" fill="#222" stroke="#222" stroke-width="0.16">10</text>
<line x1="421.0" y1="312.4" x2="422.6" y2="312.4" stroke="#000" stroke-width="0.7"/>
<text x="420.70000000000005" y="313.7" font-size="3.6" text-anchor="end" font-weight="normal" fill="#222" stroke="#222" stroke-width="0.16">0</text>
<line x1="431.95" y1="291.3" x2="431.95" y2="296.0" stroke="#000" stroke-width="0.8"/>
<line x1="428.95" y1="291.3" x2="434.95" y2="291.3" stroke="#000" stroke-width="0.9"/>
<rect x="425.7" y="296.0" width="12.5" height="16.399999999999977" fill="#000" stroke="none" stroke-width="1"/>
<line x1="431.95" y1="312.4" x2="431.95" y2="313.9" stroke="#000" stroke-width="0.7"/>
<line x1="449.5" y1="268.5" x2="449.5" y2="276.4" stroke="#000" stroke-width="0.8"/>
<line x1="446.5" y1="268.5" x2="452.5" y2="268.5" stroke="#000" stroke-width="0.9"/>
<rect x="443.6" y="276.9" width="11.799999999999955" height="35.5" fill="#fff" stroke="#000" stroke-width="1"/>
<line x1="449.5" y1="312.4" x2="449.5" y2="313.9" stroke="#000" stroke-width="0.7"/>
<text x="413.9" y="285.2" font-size="5.0" text-anchor="middle" font-weight="normal" fill="#111" stroke="#111" stroke-width="0.16" transform="rotate(-90 413.9 285.2)">% Positive</text>
<text x="432.1" y="319.3" font-size="4.6" text-anchor="middle" font-weight="normal" fill="#111" stroke="#111" stroke-width="0.16">DMSO</text>
<text x="448.8" y="319.3" font-size="4.6" text-anchor="middle" font-weight="normal" fill="#111" stroke="#111" stroke-width="0.16">RA</text>
<line x1="428.3" y1="264.6" x2="452.9" y2="264.6" stroke="#000" stroke-width="1.1"/>
<text x="440.6" y="262.6" font-size="5.1" text-anchor="middle" font-weight="normal" fill="#000" stroke="#000" stroke-width="0.16">NS</text>
<text x="440.6" y="246.6" font-size="5.15" text-anchor="middle" font-weight="normal" fill="#111" stroke="#111" stroke-width="0.16">CD4<tspan dy="-1.9" font-size="3.4">+</tspan><tspan dy="1.9">CCR9</tspan><tspan dy="-1.9" font-size="3.4">+</tspan></text>
<line x1="482.6" y1="257.2" x2="482.6" y2="312.9" stroke="#000" stroke-width="0.9"/>
<line x1="482.15000000000003" y1="312.4" x2="517.4" y2="312.4" stroke="#000" stroke-width="0.9"/>
<line x1="481.0" y1="257.2" x2="482.6" y2="257.2" stroke="#000" stroke-width="0.7"/>
<text x="480.70000000000005" y="258.5" font-size="3.6" text-anchor="end" font-weight="normal" fill="#222" stroke="#222" stroke-width="0.16">50</text>
<line x1="481.0" y1="268.24" x2="482.6" y2="268.24" stroke="#000" stroke-width="0.7"/>
<text x="480.70000000000005" y="269.54" font-size="3.6" text-anchor="end" font-weight="normal" fill="#222" stroke="#222" stroke-width="0.16">40</text>
<line x1="481.0" y1="279.28" x2="482.6" y2="279.28" stroke="#000" stroke-width="0.7"/>
<text x="480.70000000000005" y="280.58" font-size="3.6" text-anchor="end" font-weight="normal" fill="#222" stroke="#222" stroke-width="0.16">30</text>
<line x1="481.0" y1="290.32" x2="482.6" y2="290.32" stroke="#000" stroke-width="0.7"/>
<text x="480.70000000000005" y="291.62" font-size="3.6" text-anchor="end" font-weight="normal" fill="#222" stroke="#222" stroke-width="0.16">20</text>
<line x1="481.0" y1="301.35999999999996" x2="482.6" y2="301.35999999999996" stroke="#000" stroke-width="0.7"/>
<text x="480.70000000000005" y="302.65999999999997" font-size="3.6" text-anchor="end" font-weight="normal" fill="#222" stroke="#222" stroke-width="0.16">10</text>
<line x1="481.0" y1="312.4" x2="482.6" y2="312.4" stroke="#000" stroke-width="0.7"/>
<text x="480.70000000000005" y="313.7" font-size="3.6" text-anchor="end" font-weight="normal" fill="#222" stroke="#222" stroke-width="0.16">0</text>
<line x1="491.55" y1="290.5" x2="491.55" y2="294.2" stroke="#000" stroke-width="0.8"/>
<line x1="488.55" y1="290.5" x2="494.55" y2="290.5" stroke="#000" stroke-width="0.9"/>
<rect x="485.3" y="294.2" width="12.5" height="18.19999999999999" fill="#000" stroke="none" stroke-width="1"/>
<line x1="491.55" y1="312.4" x2="491.55" y2="313.9" stroke="#000" stroke-width="0.7"/>
<line x1="509.5" y1="260.3" x2="509.5" y2="267.5" stroke="#000" stroke-width="0.8"/>
<line x1="506.5" y1="260.3" x2="512.5" y2="260.3" stroke="#000" stroke-width="0.9"/>
<rect x="503.6" y="268.0" width="11.799999999999955" height="44.39999999999998" fill="#fff" stroke="#000" stroke-width="1"/>
<line x1="509.5" y1="312.4" x2="509.5" y2="313.9" stroke="#000" stroke-width="0.7"/>
<text x="473.8" y="283.8" font-size="5.0" text-anchor="middle" font-weight="normal" fill="#111" stroke="#111" stroke-width="0.16" transform="rotate(-90 473.8 283.8)">% Positive</text>
<text x="491.8" y="319.0" font-size="4.6" text-anchor="middle" font-weight="normal" fill="#111" stroke="#111" stroke-width="0.16">DMSO</text>
<text x="509.5" y="319.0" font-size="4.6" text-anchor="middle" font-weight="normal" fill="#111" stroke="#111" stroke-width="0.16">RA</text>
<line x1="489.3" y1="258.7" x2="512.9" y2="258.7" stroke="#000" stroke-width="1.1"/>
<circle cx="499.35" cy="255.0" r="1.15" fill="#000"/>
<circle cx="502.85" cy="255.0" r="1.15" fill="#000"/>
<text x="500.6" y="246.6" font-size="5.15" text-anchor="middle" font-weight="normal" fill="#111" stroke="#111" stroke-width="0.16">CD8<tspan dy="-1.9" font-size="3.4">+</tspan><tspan dy="1.9">CCR9</tspan><tspan dy="-1.9" font-size="3.4">+</tspan></text>
<line x1="422.5" y1="342.6" x2="422.5" y2="398.2" stroke="#000" stroke-width="0.9"/>
<line x1="422.05" y1="397.7" x2="458.2" y2="397.7" stroke="#000" stroke-width="0.9"/>
<line x1="420.9" y1="342.6" x2="422.5" y2="342.6" stroke="#000" stroke-width="0.7"/>
<text x="420.6" y="343.90000000000003" font-size="3.6" text-anchor="end" font-weight="normal" fill="#222" stroke="#222" stroke-width="0.16">50</text>
<line x1="420.9" y1="353.62" x2="422.5" y2="353.62" stroke="#000" stroke-width="0.7"/>
<text x="420.6" y="354.92" font-size="3.6" text-anchor="end" font-weight="normal" fill="#222" stroke="#222" stroke-width="0.16">40</text>
<line x1="420.9" y1="364.64" x2="422.5" y2="364.64" stroke="#000" stroke-width="0.7"/>
<text x="420.6" y="365.94" font-size="3.6" text-anchor="end" font-weight="normal" fill="#222" stroke="#222" stroke-width="0.16">30</text>
<line x1="420.9" y1="375.66" x2="422.5" y2="375.66" stroke="#000" stroke-width="0.7"/>
<text x="420.6" y="376.96000000000004" font-size="3.6" text-anchor="end" font-weight="normal" fill="#222" stroke="#222" stroke-width="0.16">20</text>
<line x1="420.9" y1="386.68" x2="422.5" y2="386.68" stroke="#000" stroke-width="0.7"/>
<text x="420.6" y="387.98" font-size="3.6" text-anchor="end" font-weight="normal" fill="#222" stroke="#222" stroke-width="0.16">10</text>
<line x1="420.9" y1="397.7" x2="422.5" y2="397.7" stroke="#000" stroke-width="0.7"/>
<text x="420.6" y="399.0" font-size="3.6" text-anchor="end" font-weight="normal" fill="#222" stroke="#222" stroke-width="0.16">0</text>
<line x1="432.04999999999995" y1="383.1" x2="432.04999999999995" y2="384.2" stroke="#000" stroke-width="0.8"/>
<line x1="429.04999999999995" y1="383.1" x2="435.04999999999995" y2="383.1" stroke="#000" stroke-width="0.9"/>
<rect x="425.7" y="384.2" width="12.699999999999989" height="13.5" fill="#000" stroke="none" stroke-width="1"/>
<line x1="432.04999999999995" y1="397.7" x2="432.04999999999995" y2="399.2" stroke="#000" stroke-width="0.7"/>
<line x1="450.54999999999995" y1="351.0" x2="450.54999999999995" y2="359.3" stroke="#000" stroke-width="0.8"/>
<line x1="447.54999999999995" y1="351.0" x2="453.54999999999995" y2="351.0" stroke="#000" stroke-width="0.9"/>
<rect x="444.9" y="359.8" width="11.300000000000011" height="37.89999999999998" fill="#fff" stroke="#000" stroke-width="1"/>
<line x1="450.54999999999995" y1="397.7" x2="450.54999999999995" y2="399.2" stroke="#000" stroke-width="0.7"/>
<text x="414.0" y="370.3" font-size="5.0" text-anchor="middle" font-weight="normal" fill="#111" stroke="#111" stroke-width="0.16" transform="rotate(-90 414.0 370.3)">% Positive</text>
<text x="432.2" y="404.3" font-size="4.6" text-anchor="middle" font-weight="normal" fill="#111" stroke="#111" stroke-width="0.16">DMSO</text>
<text x="451.0" y="404.3" font-size="4.6" text-anchor="middle" font-weight="normal" fill="#111" stroke="#111" stroke-width="0.16">RA</text>
<line x1="429.4" y1="343.6" x2="453.0" y2="343.6" stroke="#000" stroke-width="1.1"/>
<circle cx="439.45" cy="340.4" r="1.15" fill="#000"/>
<circle cx="442.95" cy="340.4" r="1.15" fill="#000"/>
<text x="441.4" y="331.5" font-size="5.15" text-anchor="middle" font-weight="normal" fill="#111" stroke="#111" stroke-width="0.16">CD4<tspan dy="-1.9" font-size="3.4">+</tspan><tspan dy="1.9">α4β7</tspan><tspan dy="-1.9" font-size="3.4">+</tspan></text>
<line x1="482.4" y1="343.4" x2="482.4" y2="398.4" stroke="#000" stroke-width="0.9"/>
<line x1="481.95" y1="397.9" x2="518.7" y2="397.9" stroke="#000" stroke-width="0.9"/>
<line x1="480.79999999999995" y1="343.4" x2="482.4" y2="343.4" stroke="#000" stroke-width="0.7"/>
<text x="480.5" y="344.7" font-size="3.6" text-anchor="end" font-weight="normal" fill="#222" stroke="#222" stroke-width="0.16">80</text>
<line x1="480.79999999999995" y1="357.025" x2="482.4" y2="357.025" stroke="#000" stroke-width="0.7"/>
<text x="480.5" y="358.325" font-size="3.6" text-anchor="end" font-weight="normal" fill="#222" stroke="#222" stroke-width="0.16">60</text>
<line x1="480.79999999999995" y1="370.65" x2="482.4" y2="370.65" stroke="#000" stroke-width="0.7"/>
<text x="480.5" y="371.95" font-size="3.6" text-anchor="end" font-weight="normal" fill="#222" stroke="#222" stroke-width="0.16">40</text>
<line x1="480.79999999999995" y1="384.275" x2="482.4" y2="384.275" stroke="#000" stroke-width="0.7"/>
<text x="480.5" y="385.575" font-size="3.6" text-anchor="end" font-weight="normal" fill="#222" stroke="#222" stroke-width="0.16">20</text>
<line x1="480.79999999999995" y1="397.9" x2="482.4" y2="397.9" stroke="#000" stroke-width="0.7"/>
<text x="480.5" y="399.2" font-size="3.6" text-anchor="end" font-weight="normal" fill="#222" stroke="#222" stroke-width="0.16">0</text>
<line x1="491.5" y1="366.0" x2="491.5" y2="368.4" stroke="#000" stroke-width="0.8"/>
<line x1="488.5" y1="366.0" x2="494.5" y2="366.0" stroke="#000" stroke-width="0.9"/>
<rect x="485.3" y="368.4" width="12.399999999999977" height="29.5" fill="#000" stroke="none" stroke-width="1"/>
<line x1="491.5" y1="397.9" x2="491.5" y2="399.4" stroke="#000" stroke-width="0.7"/>
<line x1="509.8" y1="349.7" x2="509.8" y2="354.4" stroke="#000" stroke-width="0.8"/>
<line x1="506.8" y1="349.7" x2="512.8" y2="349.7" stroke="#000" stroke-width="0.9"/>
<rect x="503.9" y="354.9" width="11.800000000000068" height="43.0" fill="#fff" stroke="#000" stroke-width="1"/>
<line x1="509.8" y1="397.9" x2="509.8" y2="399.4" stroke="#000" stroke-width="0.7"/>
<text x="473.7" y="370.2" font-size="5.0" text-anchor="middle" font-weight="normal" fill="#111" stroke="#111" stroke-width="0.16" transform="rotate(-90 473.7 370.2)">% Positive</text>
<text x="491.3" y="404.4" font-size="4.6" text-anchor="middle" font-weight="normal" fill="#111" stroke="#111" stroke-width="0.16">DMSO</text>
<text x="509.6" y="404.4" font-size="4.6" text-anchor="middle" font-weight="normal" fill="#111" stroke="#111" stroke-width="0.16">RA</text>
<line x1="489.0" y1="343.6" x2="511.8" y2="343.6" stroke="#000" stroke-width="1.1"/>
<circle cx="500.40" cy="340.2" r="1.15" fill="#000"/>
<text x="501.4" y="331.5" font-size="5.15" text-anchor="middle" font-weight="normal" fill="#111" stroke="#111" stroke-width="0.16">CD8<tspan dy="-1.9" font-size="3.4">+</tspan><tspan dy="1.9">α4β7</tspan><tspan dy="-1.9" font-size="3.4">+</tspan></text>
</g>
</svg></body></html>
